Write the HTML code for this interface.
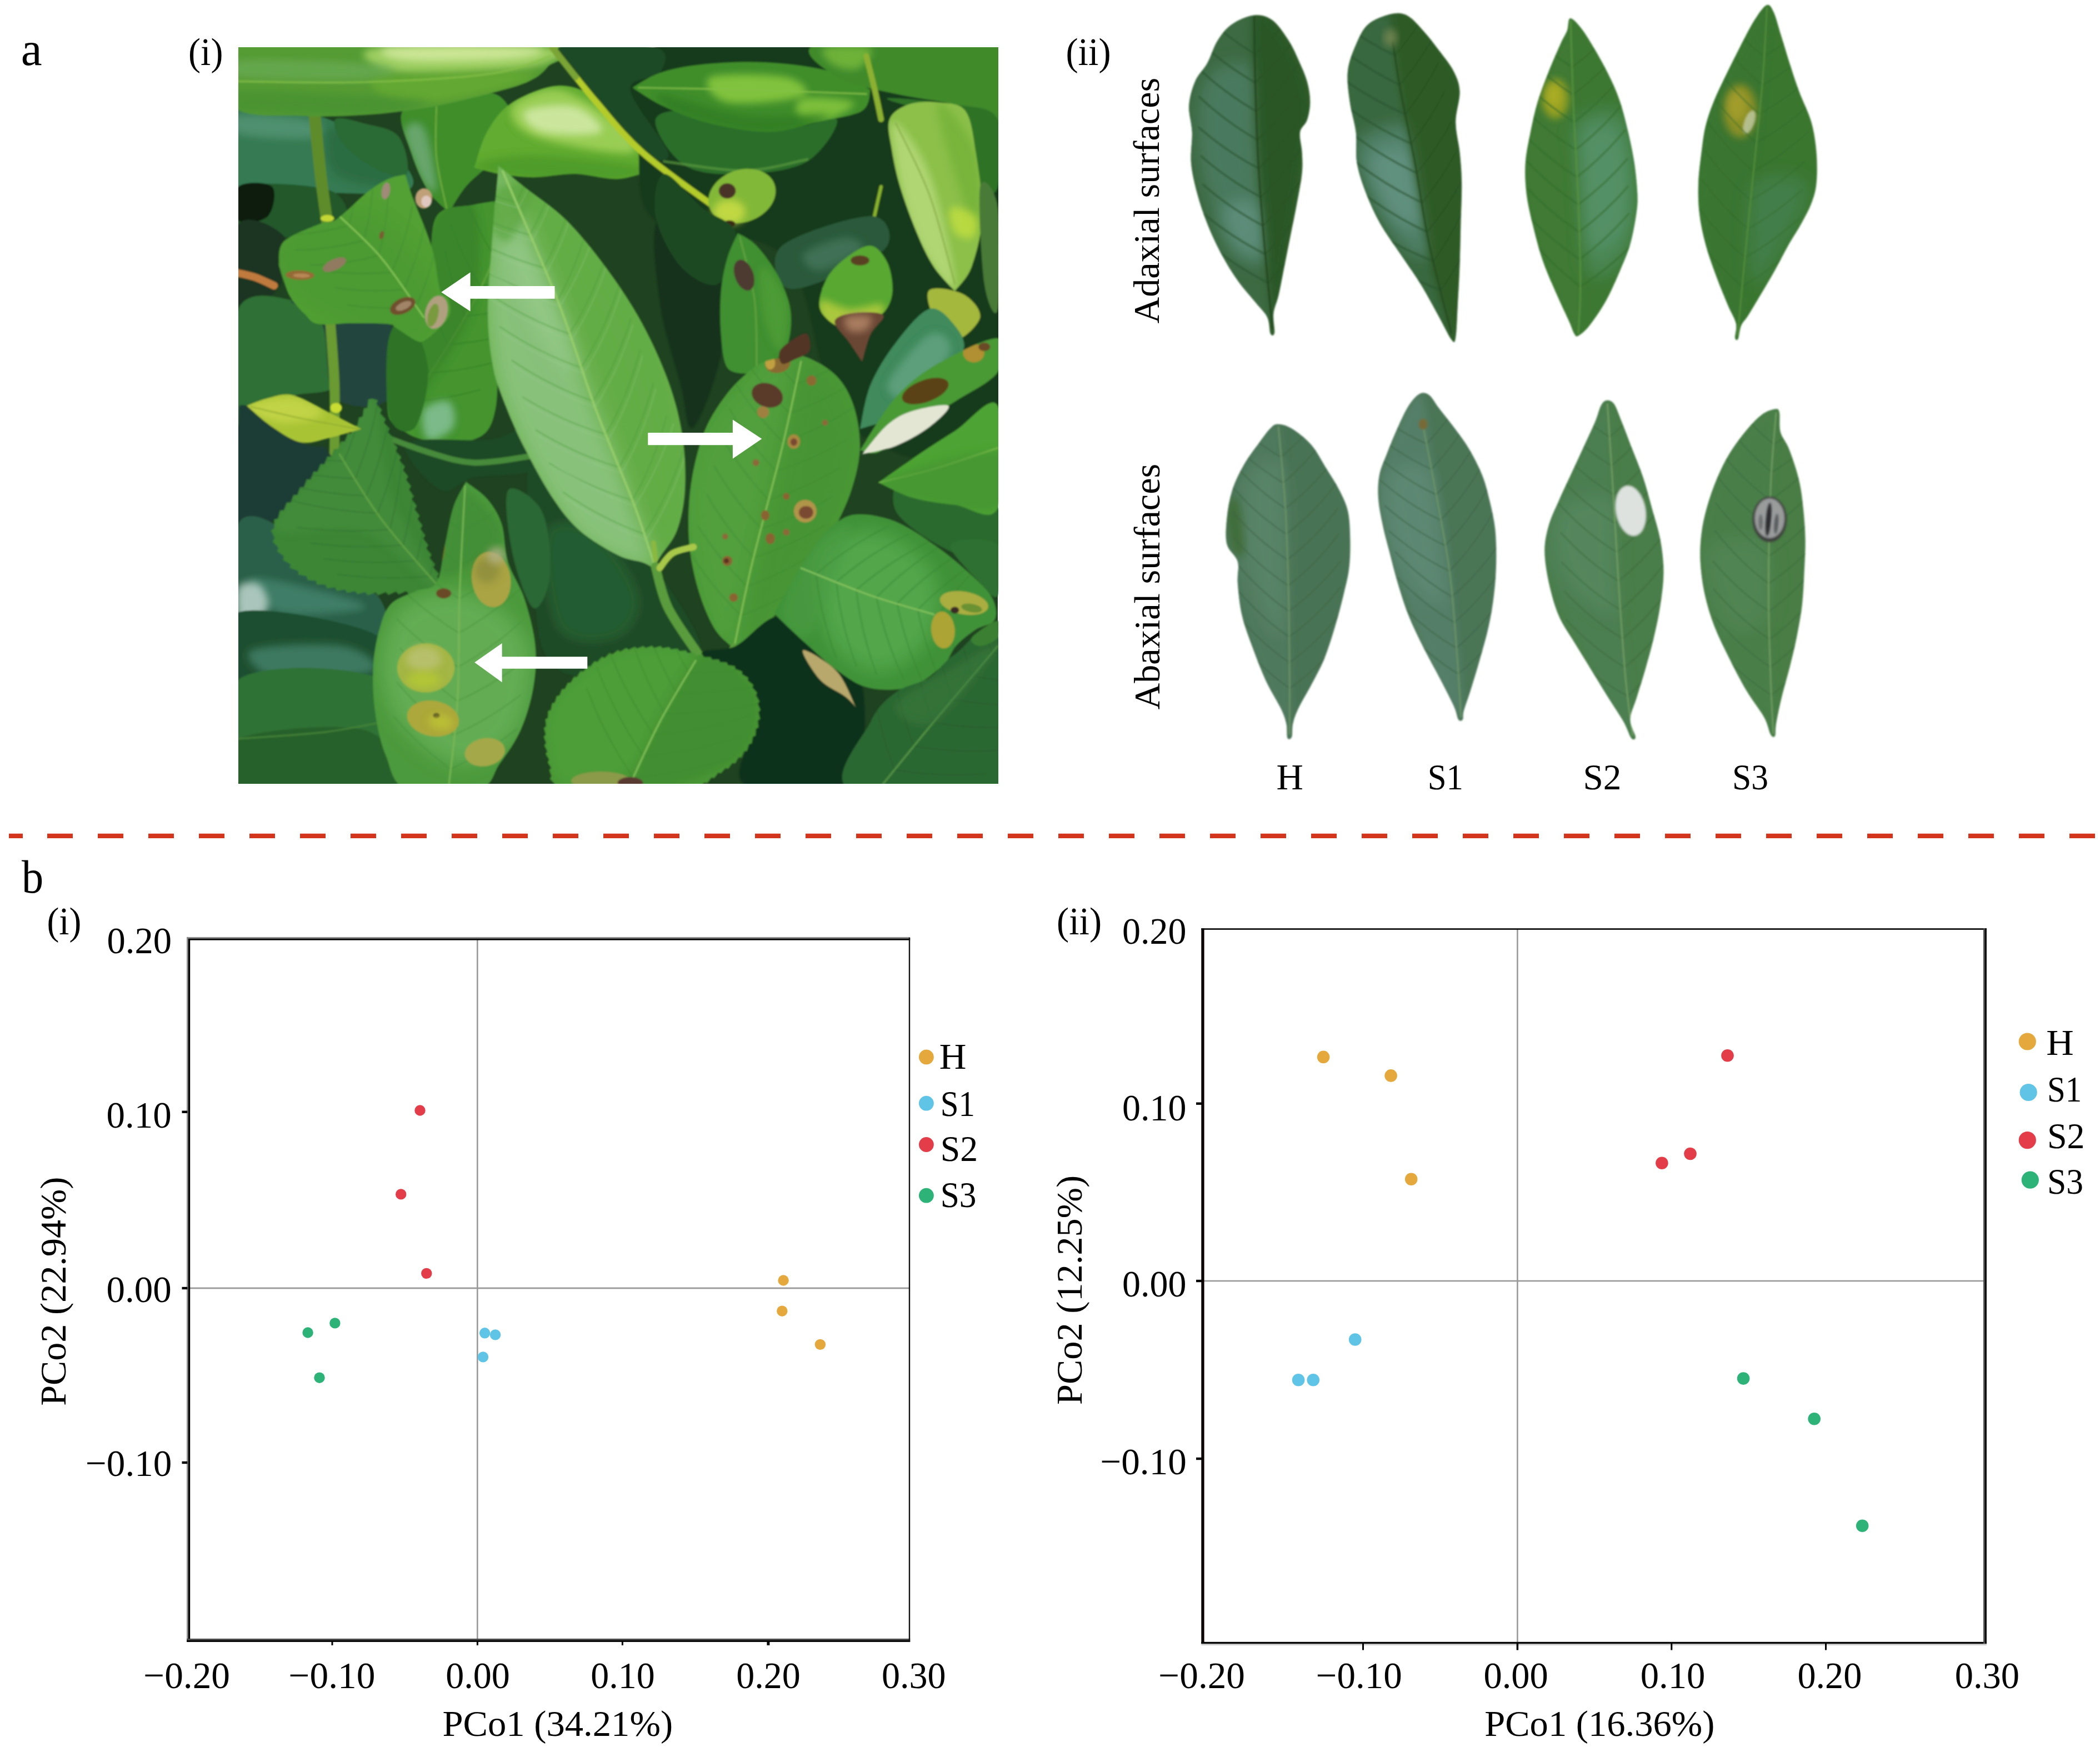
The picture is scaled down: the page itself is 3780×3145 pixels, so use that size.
<!DOCTYPE html>
<html><head><meta charset="utf-8"><title>Figure</title>
<style>
html,body{margin:0;padding:0;background:#fff;}
svg{display:block;}
text{font-family:"Liberation Serif",serif;fill:#000;}
</style></head><body>
<svg width="3780" height="3145" viewBox="0 0 3780 3145">
<rect width="3780" height="3145" fill="#fff"/>
<defs>
<filter id="pb1" x="-10%" y="-10%" width="120%" height="120%"><feGaussianBlur stdDeviation="2.2"/></filter>
<filter id="pb2" x="-30%" y="-30%" width="160%" height="160%"><feGaussianBlur stdDeviation="9"/></filter>
<filter id="pb3" x="-50%" y="-50%" width="200%" height="200%"><feGaussianBlur stdDeviation="22"/></filter>
<filter id="pb4" x="-50%" y="-50%" width="200%" height="200%"><feGaussianBlur stdDeviation="45"/></filter>
<clipPath id="photoclip"><rect x="0" y="0" width="1802" height="1747"/></clipPath>
</defs>
<g transform="translate(429,85.7) scale(0.75861)" clip-path="url(#photoclip)">
<rect x="0" y="0" width="1802" height="1747" fill="#1f4220"/>
<g filter="url(#pb1)">
<path d="M0.0,140.0 C33.3,110.8 136.7,144.2 200.0,165.0 C263.3,185.8 346.7,235.8 380.0,265.0 C413.3,294.2 430.0,326.7 400.0,340.0 C370.0,353.3 266.7,345.0 200.0,345.0 C133.3,345.0 33.3,374.2 0.0,340.0 C-33.3,305.8 -33.3,169.2 0.0,140.0 Z" fill="#357a52"/>
<path d="M0.0,160.0 C30.0,155.0 150.8,165.8 180.0,175.0 C209.2,184.2 205.0,210.0 175.0,215.0 C145.0,220.0 29.2,214.2 0.0,205.0 C-29.2,195.8 -30.0,165.0 0.0,160.0 Z" fill="#5a9a7c" opacity="0.7" filter="url(#pb2)"/>
<path d="M220.0,190.0 C241.7,183.3 333.3,236.7 360.0,260.0 C386.7,283.3 401.7,323.3 380.0,330.0 C358.3,336.7 256.7,323.3 230.0,300.0 C203.3,276.7 198.3,196.7 220.0,190.0 Z" fill="#2a6a40" opacity="0.8" filter="url(#pb2)"/>
<path d="M0.0,330.0 C36.7,316.7 178.3,323.3 220.0,340.0 C261.7,356.7 268.3,411.7 250.0,430.0 C231.7,448.3 151.7,451.7 110.0,450.0 C68.3,448.3 18.3,440.0 0.0,420.0 C-18.3,400.0 -36.7,343.3 0.0,330.0 Z" fill="#24582c"/>
<path d="M0.0,330.0 C13.3,316.7 68.3,318.3 80.0,330.0 C91.7,341.7 83.3,386.7 70.0,400.0 C56.7,413.3 11.7,421.7 0.0,410.0 C-11.7,398.3 -13.3,343.3 0.0,330.0 Z" fill="#0e1c0e"/>
<path d="M0.0,420.0 C18.3,388.3 93.3,426.7 110.0,450.0 C126.7,473.3 118.3,528.3 100.0,560.0 C81.7,591.7 16.7,663.3 0.0,640.0 C-16.7,616.7 -18.3,451.7 0.0,420.0 Z" fill="#1a3520"/>
<path d="M0.0,535.0 C6.7,536.7 25.8,540.0 40.0,545.0 C54.2,550.0 77.5,561.7 85.0,565.0" fill="none" stroke="#c07a3c" stroke-width="18" stroke-linecap="round" opacity="1"/>
<path d="M0.0,620.0 C21.7,570.0 96.7,593.3 130.0,600.0 C163.3,606.7 183.3,626.7 200.0,660.0 C216.7,693.3 243.3,771.7 230.0,800.0 C216.7,828.3 158.3,813.3 120.0,830.0 C81.7,846.7 20.0,935.0 0.0,900.0 C-20.0,865.0 -21.7,670.0 0.0,620.0 Z" fill="#2e7034"/>
<path d="M130.0,600.0 C155.0,596.7 311.7,601.7 350.0,640.0 C388.3,678.3 380.0,798.3 360.0,830.0 C340.0,861.7 256.7,858.3 230.0,830.0 C203.3,801.7 216.7,698.3 200.0,660.0 C183.3,621.7 105.0,603.3 130.0,600.0 Z" fill="#24443c"/>
<path d="M0.0,900.0 C3.3,850.0 -5.0,843.8 20.0,850.0 C45.0,856.2 117.5,918.7 150.0,937.0 C182.5,955.3 204.2,934.5 215.0,960.0 C225.8,985.5 235.8,1063.3 215.0,1090.0 C194.2,1116.7 125.8,1110.0 90.0,1120.0 C54.2,1130.0 15.0,1186.7 0.0,1150.0 C-15.0,1113.3 -3.3,950.0 0.0,900.0 Z" fill="#1f3c34"/>
<path d="M0.0,1130.0 C16.7,1095.0 66.7,1116.7 100.0,1140.0 C133.3,1163.3 161.7,1243.3 200.0,1270.0 C238.3,1296.7 310.0,1278.3 330.0,1300.0 C350.0,1321.7 375.0,1391.7 320.0,1400.0 C265.0,1408.3 53.3,1395.0 0.0,1350.0 C-53.3,1305.0 -16.7,1165.0 0.0,1130.0 Z" fill="#2a6048"/>
<path d="M30.0,1260.0 C46.7,1251.7 155.0,1278.3 200.0,1290.0 C245.0,1301.7 316.7,1321.7 300.0,1330.0 C283.3,1338.3 145.0,1351.7 100.0,1340.0 C55.0,1328.3 13.3,1268.3 30.0,1260.0 Z" fill="#4a8a74" opacity="0.7" filter="url(#pb2)"/>
<path d="M0.0,1280.0 C8.3,1265.8 38.3,1266.7 50.0,1275.0 C61.7,1283.3 75.0,1315.0 70.0,1330.0 C65.0,1345.0 31.7,1360.0 20.0,1365.0 C8.3,1370.0 3.3,1374.2 0.0,1360.0 C-3.3,1345.8 -8.3,1294.2 0.0,1280.0 Z" fill="#b8d0c8" opacity="0.9" filter="url(#pb2)"/>
<path d="M0.0,1340.0 C53.3,1321.7 265.0,1363.3 320.0,1390.0 C375.0,1416.7 383.3,1481.7 330.0,1500.0 C276.7,1518.3 55.0,1526.7 0.0,1500.0 C-55.0,1473.3 -53.3,1358.3 0.0,1340.0 Z" fill="#1f5030"/>
<path d="M30.0,1430.0 C55.0,1416.7 201.7,1411.7 250.0,1420.0 C298.3,1428.3 345.0,1466.7 320.0,1480.0 C295.0,1493.3 148.3,1508.3 100.0,1500.0 C51.7,1491.7 5.0,1443.3 30.0,1430.0 Z" fill="#4a8a74" opacity="0.7" filter="url(#pb2)"/>
<path d="M0.0,1500.0 C55.0,1458.0 270.0,1470.0 330.0,1495.0 C390.0,1520.0 346.7,1608.0 360.0,1650.0 C373.3,1692.0 470.0,1730.8 410.0,1747.0 C350.0,1763.2 68.3,1788.2 0.0,1747.0 C-68.3,1705.8 -55.0,1542.0 0.0,1500.0 Z" fill="#2f7236"/>
<path d="M0.0,1640.0 C50.0,1618.8 236.7,1602.2 300.0,1620.0 C363.3,1637.8 430.0,1725.8 380.0,1747.0 C330.0,1768.2 63.3,1764.8 0.0,1747.0 C-63.3,1729.2 -50.0,1661.2 0.0,1640.0 Z" fill="#28602c"/>
<path d="M0.0,1640.0 C33.3,1637.5 142.5,1631.7 200.0,1625.0 C257.5,1618.3 320.8,1604.2 345.0,1600.0" fill="none" stroke="#4a8a3a" stroke-width="4" stroke-linecap="round" opacity="0.8"/>
<path d="M180.0,150.0 C182.5,175.0 190.0,256.7 195.0,300.0 C200.0,343.3 207.5,391.7 210.0,410.0" fill="none" stroke="#5f8c2c" stroke-width="28" stroke-linecap="round" opacity="1"/>
<ellipse cx="211" cy="405" rx="16" ry="8" fill="#c4d834" opacity="1" transform="rotate(0 211 405)"/>
<path d="M218.0,650.0 C219.7,675.0 226.3,748.3 228.0,800.0 C229.7,851.7 228.0,933.3 228.0,960.0" fill="none" stroke="#6a9a30" stroke-width="24" stroke-linecap="round" opacity="1"/>
<ellipse cx="232" cy="855" rx="14" ry="12" fill="#c8dc30" opacity="1" transform="rotate(0 232 855)"/>
<path d="M230.0,170.0 C238.3,161.7 275.0,173.3 300.0,180.0 C325.0,186.7 363.3,190.0 380.0,210.0 C396.7,230.0 408.3,286.7 400.0,300.0 C391.7,313.3 355.0,301.7 330.0,290.0 C305.0,278.3 266.7,250.0 250.0,230.0 C233.3,210.0 221.7,178.3 230.0,170.0 Z" fill="#2a6a34"/>
<clipPath id="pc1"><path d="M390.0,150.0 C405.0,130.0 463.3,136.7 500.0,130.0 C536.7,123.3 585.0,101.7 610.0,110.0 C635.0,118.3 651.7,153.3 650.0,180.0 C648.3,206.7 618.3,245.0 600.0,270.0 C581.7,295.0 556.7,309.7 540.0,330.0 C523.3,350.3 506.0,382.7 500.0,392.0 C492.5,384.2 465.0,363.7 450.0,340.0 C435.0,316.3 420.0,281.7 410.0,250.0 C400.0,218.3 375.0,170.0 390.0,150.0 Z"/></clipPath><path d="M390.0,150.0 C405.0,130.0 463.3,136.7 500.0,130.0 C536.7,123.3 585.0,101.7 610.0,110.0 C635.0,118.3 651.7,153.3 650.0,180.0 C648.3,206.7 618.3,245.0 600.0,270.0 C581.7,295.0 556.7,309.7 540.0,330.0 C523.3,350.3 506.0,382.7 500.0,392.0 C492.5,384.2 465.0,363.7 450.0,340.0 C435.0,316.3 420.0,281.7 410.0,250.0 C400.0,218.3 375.0,170.0 390.0,150.0 Z" fill="#3f8e2c"/><g clip-path="url(#pc1)"><path d="M395.0,200.0 C395.0,178.3 427.5,168.3 440.0,190.0 C452.5,211.7 470.0,308.3 470.0,330.0 C470.0,351.7 452.5,341.7 440.0,320.0 C427.5,298.3 395.0,221.7 395.0,200.0 Z" fill="#7ab088" opacity="0.7" filter="url(#pb2)"/><path d="M470.0,140.0 C470.0,160.0 465.8,219.2 470.0,260.0 C474.2,300.8 490.8,364.2 495.0,385.0" fill="none" stroke="#6aaa3a" stroke-width="4" stroke-linecap="round" opacity="1"/></g>
<clipPath id="pc2"><path d="M-10.0,-10.0 C118.3,-35.0 635.8,-19.2 760.0,-10.0 C884.2,-0.8 746.7,30.0 735.0,45.0 C723.3,60.0 712.5,69.5 690.0,80.0 C667.5,90.5 640.0,97.7 600.0,108.0 C560.0,118.3 500.0,133.3 450.0,142.0 C400.0,150.7 350.0,156.7 300.0,160.0 C250.0,163.3 201.7,165.3 150.0,162.0 C98.3,158.7 16.7,168.7 -10.0,140.0 C-36.7,111.3 -138.3,15.0 -10.0,-10.0 Z"/></clipPath><path d="M-10.0,-10.0 C118.3,-35.0 635.8,-19.2 760.0,-10.0 C884.2,-0.8 746.7,30.0 735.0,45.0 C723.3,60.0 712.5,69.5 690.0,80.0 C667.5,90.5 640.0,97.7 600.0,108.0 C560.0,118.3 500.0,133.3 450.0,142.0 C400.0,150.7 350.0,156.7 300.0,160.0 C250.0,163.3 201.7,165.3 150.0,162.0 C98.3,158.7 16.7,168.7 -10.0,140.0 C-36.7,111.3 -138.3,15.0 -10.0,-10.0 Z" fill="#559c34"/><g clip-path="url(#pc2)"><path d="M330.0,0.0 C397.5,-8.3 683.3,-7.5 745.0,0.0 C806.7,7.5 744.2,35.0 700.0,45.0 C655.8,55.0 540.0,59.2 480.0,60.0 C420.0,60.8 365.0,60.0 340.0,50.0 C315.0,40.0 262.5,8.3 330.0,0.0 Z" fill="#a6d468" opacity="0.9" filter="url(#pb2)"/><path d="M360.0,0.0 C410.0,-5.0 650.0,-4.2 700.0,0.0 C750.0,4.2 710.0,20.0 660.0,25.0 C610.0,30.0 450.0,34.2 400.0,30.0 C350.0,25.8 310.0,5.0 360.0,0.0 Z" fill="#d4eaa0" opacity="0.85" filter="url(#pb2)"/><path d="M0.0,30.0 C55.0,25.0 275.0,32.5 330.0,40.0 C385.0,47.5 385.0,70.0 330.0,75.0 C275.0,80.0 55.0,77.5 0.0,70.0 C-55.0,62.5 -55.0,35.0 0.0,30.0 Z" fill="#6cac58" opacity="0.7" filter="url(#pb2)"/><path d="M330.0,75.0 C378.3,63.3 645.0,55.0 690.0,60.0 C735.0,65.0 648.3,93.3 600.0,105.0 C551.7,116.7 445.0,135.0 400.0,130.0 C355.0,125.0 281.7,86.7 330.0,75.0 Z" fill="#68ac30" opacity="0.8" filter="url(#pb2)"/><path d="M0.0,105.0 C50.0,99.2 225.0,110.8 300.0,115.0 C375.0,119.2 450.0,122.5 450.0,130.0 C450.0,137.5 375.0,156.7 300.0,160.0 C225.0,163.3 50.0,159.2 0.0,150.0 C-50.0,140.8 -50.0,110.8 0.0,105.0 Z" fill="#4a9230" opacity="0.8" filter="url(#pb2)"/><path d="M0.0,80.0 C50.0,80.3 200.0,85.0 300.0,82.0 C400.0,79.0 526.7,72.3 600.0,62.0 C673.3,51.7 716.7,27.0 740.0,20.0" fill="none" stroke="#86c048" stroke-width="5" stroke-linecap="round" opacity="0.7"/></g>
<clipPath id="pc3"><path d="M560.0,285.0 C564.5,272.2 575.0,225.8 590.0,200.0 C605.0,174.2 621.7,148.3 650.0,130.0 C678.3,111.7 726.7,91.7 760.0,90.0 C793.3,88.3 821.7,101.7 850.0,120.0 C878.3,138.3 907.5,171.7 930.0,200.0 C952.5,228.3 976.8,276.5 985.0,290.0 C972.2,293.3 930.8,310.3 900.0,312.0 C869.2,313.7 833.3,300.7 800.0,300.0 C766.7,299.3 730.0,308.0 700.0,308.0 C670.0,308.0 643.3,303.8 620.0,300.0 C596.7,296.2 569.0,287.2 560.0,285.0 Z"/></clipPath><path d="M560.0,285.0 C564.5,272.2 575.0,225.8 590.0,200.0 C605.0,174.2 621.7,148.3 650.0,130.0 C678.3,111.7 726.7,91.7 760.0,90.0 C793.3,88.3 821.7,101.7 850.0,120.0 C878.3,138.3 907.5,171.7 930.0,200.0 C952.5,228.3 976.8,276.5 985.0,290.0 C972.2,293.3 930.8,310.3 900.0,312.0 C869.2,313.7 833.3,300.7 800.0,300.0 C766.7,299.3 730.0,308.0 700.0,308.0 C670.0,308.0 643.3,303.8 620.0,300.0 C596.7,296.2 569.0,287.2 560.0,285.0 Z" fill="#62ac30"/><g clip-path="url(#pc3)"><path d="M650.0,140.0 C660.0,121.7 718.3,93.3 760.0,100.0 C801.7,106.7 871.7,155.0 900.0,180.0 C928.3,205.0 963.3,245.0 930.0,250.0 C896.7,255.0 746.7,228.3 700.0,210.0 C653.3,191.7 640.0,158.3 650.0,140.0 Z" fill="#a4d45c" opacity="0.85" filter="url(#pb2)"/><path d="M680.0,150.0 C693.3,140.0 770.0,131.7 800.0,140.0 C830.0,148.3 873.3,190.0 860.0,200.0 C846.7,210.0 750.0,208.3 720.0,200.0 C690.0,191.7 666.7,160.0 680.0,150.0 Z" fill="#d8ecb0" opacity="0.8" filter="url(#pb2)"/><path d="M560.0,285.0 C543.3,273.8 629.2,254.2 700.0,255.0 C770.8,255.8 968.3,278.8 985.0,290.0 C1001.7,301.2 870.8,322.8 800.0,322.0 C729.2,321.2 576.7,296.2 560.0,285.0 Z" fill="#4a962a" opacity="0.7" filter="url(#pb2)"/></g>
<path d="M980.0,0.0 C1122.0,-41.7 1665.0,-150.0 1802.0,0.0 C1939.0,150.0 1860.7,750.0 1802.0,900.0 C1743.3,1050.0 1533.7,966.7 1450.0,900.0 C1366.3,833.3 1375.0,580.0 1300.0,500.0 C1225.0,420.0 1058.3,461.7 1000.0,420.0 C941.7,378.3 953.3,320.0 950.0,250.0 C946.7,180.0 838.0,41.7 980.0,0.0 Z" fill="#183a1c"/>
<path d="M760.0,0.0 C783.3,-20.0 950.0,-10.0 990.0,0.0 C1030.0,10.0 1010.0,43.3 1000.0,60.0 C990.0,76.7 926.7,68.3 930.0,100.0 C933.3,131.7 1015.0,225.0 1020.0,250.0 C1025.0,275.0 988.3,271.7 960.0,250.0 C931.7,228.3 883.3,161.7 850.0,120.0 C816.7,78.3 736.7,20.0 760.0,0.0 Z" fill="#1f4a25"/>
<path d="M990.0,170.0 C996.7,148.3 1048.3,146.7 1100.0,150.0 C1151.7,153.3 1246.7,186.7 1300.0,190.0 C1353.3,193.3 1411.7,156.7 1420.0,170.0 C1428.3,183.3 1386.7,248.3 1350.0,270.0 C1313.3,291.7 1248.3,298.3 1200.0,300.0 C1151.7,301.7 1095.0,301.7 1060.0,280.0 C1025.0,258.3 983.3,191.7 990.0,170.0 Z" fill="#2c6e2a"/>
<path d="M1010.0,270.0 C1041.7,273.7 1143.3,292.8 1200.0,292.0 C1256.7,291.2 1325.0,269.5 1350.0,265.0" fill="none" stroke="#5a9a40" stroke-width="6" stroke-linecap="round" opacity="0.7"/>
<clipPath id="pc4"><path d="M935.0,95.0 C944.8,89.8 972.5,69.2 1000.0,60.0 C1027.5,50.8 1058.3,44.2 1100.0,40.0 C1141.7,35.8 1200.0,32.5 1250.0,35.0 C1300.0,37.5 1358.3,44.2 1400.0,55.0 C1441.7,65.8 1485.0,93.2 1500.0,100.0 C1497.0,107.5 1500.0,137.5 1480.0,150.0 C1460.0,162.5 1416.7,166.7 1380.0,175.0 C1343.3,183.3 1303.3,199.2 1260.0,200.0 C1216.7,200.8 1161.7,190.0 1120.0,180.0 C1078.3,170.0 1040.8,154.2 1010.0,140.0 C979.2,125.8 946.2,101.8 935.0,95.0 Z"/></clipPath><path d="M935.0,95.0 C944.8,89.8 972.5,69.2 1000.0,60.0 C1027.5,50.8 1058.3,44.2 1100.0,40.0 C1141.7,35.8 1200.0,32.5 1250.0,35.0 C1300.0,37.5 1358.3,44.2 1400.0,55.0 C1441.7,65.8 1485.0,93.2 1500.0,100.0 C1497.0,107.5 1500.0,137.5 1480.0,150.0 C1460.0,162.5 1416.7,166.7 1380.0,175.0 C1343.3,183.3 1303.3,199.2 1260.0,200.0 C1216.7,200.8 1161.7,190.0 1120.0,180.0 C1078.3,170.0 1040.8,154.2 1010.0,140.0 C979.2,125.8 946.2,101.8 935.0,95.0 Z" fill="#408e2c"/><g clip-path="url(#pc4)"><path d="M1120.0,70.0 C1143.3,60.0 1263.3,62.5 1300.0,70.0 C1336.7,77.5 1363.3,105.0 1340.0,115.0 C1316.7,125.0 1196.7,137.5 1160.0,130.0 C1123.3,122.5 1096.7,80.0 1120.0,70.0 Z" fill="#8ccc40" opacity="0.85" filter="url(#pb2)"/><path d="M1340.0,120.0 C1361.7,114.2 1450.0,121.7 1460.0,130.0 C1470.0,138.3 1421.7,164.2 1400.0,170.0 C1378.3,175.8 1340.0,173.3 1330.0,165.0 C1320.0,156.7 1318.3,125.8 1340.0,120.0 Z" fill="#8ccc40" opacity="0.8" filter="url(#pb2)"/><path d="M1000.0,110.0 C1025.0,110.0 1133.3,151.7 1200.0,160.0 C1266.7,168.3 1390.0,152.5 1400.0,160.0 C1410.0,167.5 1318.3,205.0 1260.0,205.0 C1201.7,205.0 1093.3,175.8 1050.0,160.0 C1006.7,144.2 975.0,110.0 1000.0,110.0 Z" fill="#2f7a24" opacity="0.7" filter="url(#pb2)"/><path d="M950.0,95.0 C991.7,95.8 1110.0,97.5 1200.0,100.0 C1290.0,102.5 1441.7,108.3 1490.0,110.0" fill="none" stroke="#86c048" stroke-width="4" stroke-linecap="round" opacity="0.8"/></g>
<path d="M1380.0,-10.0 C1446.7,-23.3 1746.7,-40.0 1820.0,-10.0 C1893.3,20.0 1840.0,145.8 1820.0,170.0 C1800.0,194.2 1743.3,145.0 1700.0,135.0 C1656.7,125.0 1606.7,120.8 1560.0,110.0 C1513.3,99.2 1450.0,90.0 1420.0,70.0 C1390.0,50.0 1313.3,3.3 1380.0,-10.0 Z" fill="#3f8a2c"/>
<path d="M1390.0,0.0 C1405.0,-6.7 1486.7,-8.3 1500.0,0.0 C1513.3,8.3 1485.0,43.3 1470.0,50.0 C1455.0,56.7 1423.3,48.3 1410.0,40.0 C1396.7,31.7 1375.0,6.7 1390.0,0.0 Z" fill="#7abc3c" opacity="0.8" filter="url(#pb2)"/>
<path d="M1540.0,120.0 C1553.3,117.5 1656.3,126.7 1700.0,135.0 C1743.7,143.3 1785.0,137.5 1802.0,170.0 C1819.0,202.5 1809.0,303.3 1802.0,330.0 C1795.0,356.7 1773.7,351.7 1760.0,330.0 C1746.3,308.3 1743.3,230.0 1720.0,200.0 C1696.7,170.0 1650.0,163.3 1620.0,150.0 C1590.0,136.7 1526.7,122.5 1540.0,120.0 Z" fill="#2f7228"/>
<path d="M745.0,0.0 C762.5,21.7 814.2,88.3 850.0,130.0 C885.8,171.7 913.3,208.7 960.0,250.0 C1006.7,291.3 1101.7,356.7 1130.0,378.0" fill="none" stroke="#b4cc2c" stroke-width="15" stroke-linecap="round" opacity="1"/>
<path d="M745.0,0.0 L800.0,70.0" fill="none" stroke="#7aa434" stroke-width="15" stroke-linecap="round" opacity="1"/>
<path d="M1490.0,20.0 C1493.3,33.3 1504.2,75.0 1510.0,100.0 C1515.8,125.0 1522.5,158.3 1525.0,170.0" fill="none" stroke="#8cb030" stroke-width="14" stroke-linecap="round" opacity="1"/>
<path d="M1525.0,330.0 C1521.7,345.0 1510.0,395.0 1505.0,420.0 C1500.0,445.0 1496.7,470.0 1495.0,480.0" fill="none" stroke="#8ab42e" stroke-width="8" stroke-linecap="round" opacity="1"/>
<ellipse cx="1195" cy="352" rx="82" ry="62" fill="#82b838" opacity="1" transform="rotate(-20 1195 352)"/>
<ellipse cx="1165" cy="390" rx="38" ry="30" fill="#c8dc44" opacity="0.9" transform="rotate(0 1165 390)" filter="url(#pb2)"/>
<ellipse cx="1160" cy="340" rx="20" ry="18" fill="#4a3228" opacity="1" transform="rotate(0 1160 340)"/>
<ellipse cx="1165" cy="418" rx="14" ry="8" fill="#3a2a18" opacity="1" transform="rotate(0 1165 418)"/>
<path d="M1000.0,400.0 C1025.0,371.7 1125.0,380.0 1150.0,430.0 C1175.0,480.0 1161.7,621.7 1150.0,700.0 C1138.3,778.3 1096.7,883.3 1080.0,900.0 C1063.3,916.7 1063.3,850.0 1050.0,800.0 C1036.7,750.0 1008.3,666.7 1000.0,600.0 C991.7,533.3 975.0,428.3 1000.0,400.0 Z" fill="#12301a"/>
<path d="M1290.0,470.0 C1323.3,441.7 1458.3,400.0 1500.0,400.0 C1541.7,400.0 1553.3,446.7 1540.0,470.0 C1526.7,493.3 1460.0,523.3 1420.0,540.0 C1380.0,556.7 1321.7,581.7 1300.0,570.0 C1278.3,558.3 1256.7,498.3 1290.0,470.0 Z" fill="#2a5a3a"/>
<path d="M1340.0,490.0 C1350.0,476.7 1416.7,451.7 1440.0,450.0 C1463.3,448.3 1490.0,466.7 1480.0,480.0 C1470.0,493.3 1403.3,528.3 1380.0,530.0 C1356.7,531.7 1330.0,503.3 1340.0,490.0 Z" fill="#4a7a60" opacity="0.7" filter="url(#pb2)"/>
<path d="M1010.0,300.0 C1028.3,296.7 1071.7,356.7 1100.0,380.0 C1128.3,403.3 1173.3,410.0 1180.0,440.0 C1186.7,470.0 1161.7,546.7 1140.0,560.0 C1118.3,573.3 1075.0,546.7 1050.0,520.0 C1025.0,493.3 996.7,436.7 990.0,400.0 C983.3,363.3 991.7,303.3 1010.0,300.0 Z" fill="#1f4a22"/>
<clipPath id="pc5"><path d="M1545.0,170.0 C1551.7,152.5 1570.8,141.7 1590.0,135.0 C1609.2,128.3 1637.5,127.5 1660.0,130.0 C1682.5,132.5 1710.0,130.0 1725.0,150.0 C1740.0,170.0 1743.3,208.3 1750.0,250.0 C1756.7,291.7 1766.7,355.0 1765.0,400.0 C1763.3,445.0 1750.8,490.3 1740.0,520.0 C1729.2,549.7 1706.0,569.3 1700.0,578.0 C1692.5,569.3 1665.0,543.0 1650.0,520.0 C1635.0,497.0 1623.3,471.7 1610.0,440.0 C1596.7,408.3 1580.0,363.3 1570.0,330.0 C1560.0,296.7 1554.2,266.7 1550.0,240.0 C1545.8,213.3 1538.3,187.5 1545.0,170.0 Z"/></clipPath><path d="M1545.0,170.0 C1551.7,152.5 1570.8,141.7 1590.0,135.0 C1609.2,128.3 1637.5,127.5 1660.0,130.0 C1682.5,132.5 1710.0,130.0 1725.0,150.0 C1740.0,170.0 1743.3,208.3 1750.0,250.0 C1756.7,291.7 1766.7,355.0 1765.0,400.0 C1763.3,445.0 1750.8,490.3 1740.0,520.0 C1729.2,549.7 1706.0,569.3 1700.0,578.0 C1692.5,569.3 1665.0,543.0 1650.0,520.0 C1635.0,497.0 1623.3,471.7 1610.0,440.0 C1596.7,408.3 1580.0,363.3 1570.0,330.0 C1560.0,296.7 1554.2,266.7 1550.0,240.0 C1545.8,213.3 1538.3,187.5 1545.0,170.0 Z" fill="#8cc04a"/><g clip-path="url(#pc5)"><path d="M1550.0,180.0 C1556.7,158.3 1615.0,235.0 1640.0,300.0 C1665.0,365.0 1706.7,548.3 1700.0,570.0 C1693.3,591.7 1625.0,495.0 1600.0,430.0 C1575.0,365.0 1543.3,201.7 1550.0,180.0 Z" fill="#b4d878" opacity="0.9" filter="url(#pb2)"/><path d="M1660.0,130.0 C1668.3,121.7 1733.3,196.7 1750.0,250.0 C1766.7,303.3 1768.3,441.7 1760.0,450.0 C1751.7,458.3 1716.7,353.3 1700.0,300.0 C1683.3,246.7 1651.7,138.3 1660.0,130.0 Z" fill="#74b238" opacity="0.8" filter="url(#pb2)"/><path d="M1690.0,380.0 C1698.3,373.3 1740.8,388.3 1750.0,400.0 C1759.2,411.7 1753.3,443.3 1745.0,450.0 C1736.7,456.7 1709.2,451.7 1700.0,440.0 C1690.8,428.3 1681.7,386.7 1690.0,380.0 Z" fill="#c4e040" opacity="0.8" filter="url(#pb2)"/><path d="M1560.0,180.0 C1573.3,208.3 1616.7,286.7 1640.0,350.0 C1663.3,413.3 1690.0,525.0 1700.0,560.0" fill="none" stroke="#8ab04a" stroke-width="4" stroke-linecap="round" opacity="0.8"/></g>
<path d="M1760.0,330.0 C1765.3,300.0 1795.0,331.7 1802.0,380.0 C1809.0,428.3 1807.3,590.0 1802.0,620.0 C1796.7,650.0 1777.0,608.3 1770.0,560.0 C1763.0,511.7 1754.7,360.0 1760.0,330.0 Z" fill="#4a7a38"/>
<path d="M1640.0,575.0 C1651.7,565.8 1700.0,574.2 1720.0,585.0 C1740.0,595.8 1763.3,621.7 1760.0,640.0 C1756.7,658.3 1718.3,695.0 1700.0,695.0 C1681.7,695.0 1660.0,660.0 1650.0,640.0 C1640.0,620.0 1628.3,584.2 1640.0,575.0 Z" fill="#a4b83c"/>
<clipPath id="pc6"><path d="M1380.0,620.0 C1374.2,600.8 1385.0,570.0 1395.0,550.0 C1405.0,530.0 1422.5,513.3 1440.0,500.0 C1457.5,486.7 1483.3,468.3 1500.0,470.0 C1516.7,471.7 1531.3,491.7 1540.0,510.0 C1548.7,528.3 1553.7,560.0 1552.0,580.0 C1550.3,600.0 1542.0,618.3 1530.0,630.0 C1518.0,641.7 1496.7,644.2 1480.0,650.0 C1463.3,655.8 1446.7,670.0 1430.0,665.0 C1413.3,660.0 1385.8,639.2 1380.0,620.0 Z"/></clipPath><path d="M1380.0,620.0 C1374.2,600.8 1385.0,570.0 1395.0,550.0 C1405.0,530.0 1422.5,513.3 1440.0,500.0 C1457.5,486.7 1483.3,468.3 1500.0,470.0 C1516.7,471.7 1531.3,491.7 1540.0,510.0 C1548.7,528.3 1553.7,560.0 1552.0,580.0 C1550.3,600.0 1542.0,618.3 1530.0,630.0 C1518.0,641.7 1496.7,644.2 1480.0,650.0 C1463.3,655.8 1446.7,670.0 1430.0,665.0 C1413.3,660.0 1385.8,639.2 1380.0,620.0 Z" fill="#58a832"/><g clip-path="url(#pc6)"><path d="M1380.0,600.0 C1388.3,591.7 1425.0,618.3 1450.0,620.0 C1475.0,621.7 1521.7,601.7 1530.0,610.0 C1538.3,618.3 1521.7,660.0 1500.0,670.0 C1478.3,680.0 1420.0,681.7 1400.0,670.0 C1380.0,658.3 1371.7,608.3 1380.0,600.0 Z" fill="#c0d040" opacity="0.8" filter="url(#pb2)"/></g>
<path d="M1415.0,650.0 C1416.7,638.3 1440.8,632.5 1460.0,630.0 C1479.2,627.5 1523.3,626.7 1530.0,635.0 C1536.7,643.3 1508.3,661.7 1500.0,680.0 C1491.7,698.3 1483.0,735.2 1480.0,745.0 C1475.5,738.2 1460.8,715.8 1450.0,700.0 C1439.2,684.2 1413.3,661.7 1415.0,650.0 Z" fill="#6a4634"/>
<path d="M1440.0,640.0 C1448.3,634.3 1491.7,633.0 1500.0,638.0 C1508.3,643.0 1498.3,664.3 1490.0,670.0 C1481.7,675.7 1458.3,677.0 1450.0,672.0 C1441.7,667.0 1431.7,645.7 1440.0,640.0 Z" fill="#b88a6a" opacity="0.8" filter="url(#pb2)"/>
<ellipse cx="1475" cy="505" rx="22" ry="12" fill="#5a4024" opacity="1" transform="rotate(0 1475 505)"/>
<clipPath id="pc7"><path d="M1475.0,905.0 C1478.8,889.2 1485.8,834.2 1500.0,800.0 C1514.2,765.8 1536.7,730.0 1560.0,700.0 C1583.3,670.0 1616.7,626.7 1640.0,620.0 C1663.3,613.3 1686.7,643.3 1700.0,660.0 C1713.3,676.7 1728.3,696.7 1720.0,720.0 C1711.7,743.3 1675.0,775.0 1650.0,800.0 C1625.0,825.0 1599.2,852.5 1570.0,870.0 C1540.8,887.5 1489.2,899.8 1475.0,905.0 Z"/></clipPath><path d="M1475.0,905.0 C1478.8,889.2 1485.8,834.2 1500.0,800.0 C1514.2,765.8 1536.7,730.0 1560.0,700.0 C1583.3,670.0 1616.7,626.7 1640.0,620.0 C1663.3,613.3 1686.7,643.3 1700.0,660.0 C1713.3,676.7 1728.3,696.7 1720.0,720.0 C1711.7,743.3 1675.0,775.0 1650.0,800.0 C1625.0,825.0 1599.2,852.5 1570.0,870.0 C1540.8,887.5 1489.2,899.8 1475.0,905.0 Z" fill="#3f8a5c"/><g clip-path="url(#pc7)"><path d="M1540.0,800.0 C1546.7,775.0 1615.0,693.3 1640.0,680.0 C1665.0,666.7 1696.7,695.0 1690.0,720.0 C1683.3,745.0 1625.0,816.7 1600.0,830.0 C1575.0,843.3 1533.3,825.0 1540.0,800.0 Z" fill="#6aa888" opacity="0.7" filter="url(#pb2)"/></g>
<clipPath id="pc8"><path d="M1475.0,955.0 C1487.8,936.2 1529.2,864.2 1560.0,830.0 C1590.8,795.8 1619.7,773.3 1660.0,750.0 C1700.3,726.7 1778.3,686.7 1802.0,690.0 C1825.7,693.3 1819.0,745.0 1802.0,770.0 C1785.0,795.0 1733.7,818.3 1700.0,840.0 C1666.3,861.7 1630.0,880.0 1600.0,900.0 C1570.0,920.0 1540.8,950.8 1520.0,960.0 C1499.2,969.2 1481.8,955.8 1475.0,955.0 Z"/></clipPath><path d="M1475.0,955.0 C1487.8,936.2 1529.2,864.2 1560.0,830.0 C1590.8,795.8 1619.7,773.3 1660.0,750.0 C1700.3,726.7 1778.3,686.7 1802.0,690.0 C1825.7,693.3 1819.0,745.0 1802.0,770.0 C1785.0,795.0 1733.7,818.3 1700.0,840.0 C1666.3,861.7 1630.0,880.0 1600.0,900.0 C1570.0,920.0 1540.8,950.8 1520.0,960.0 C1499.2,969.2 1481.8,955.8 1475.0,955.0 Z" fill="#4a9a34"/><g clip-path="url(#pc8)"><ellipse cx="1630" cy="815" rx="58" ry="26" fill="#5a4218" opacity="1" transform="rotate(-20 1630 815)"/><ellipse cx="1745" cy="725" rx="25" ry="22" fill="#b09030" opacity="1" transform="rotate(0 1745 725)"/><ellipse cx="1770" cy="710" rx="14" ry="10" fill="#6a4a28" opacity="1" transform="rotate(0 1770 710)"/></g>
<path d="M1480.0,965.0 C1489.0,954.5 1520.0,912.2 1540.0,895.0 C1560.0,877.8 1575.8,869.5 1600.0,862.0 C1624.2,854.5 1678.3,843.7 1685.0,850.0 C1691.7,856.3 1660.8,884.2 1640.0,900.0 C1619.2,915.8 1586.7,934.2 1560.0,945.0 C1533.3,955.8 1492.0,962.0 1480.0,965.0 Z" fill="#e4e6d4"/>
<path d="M1560.0,1100.0 C1543.3,1066.7 1559.7,1001.7 1600.0,1000.0 C1640.3,998.3 1768.3,1056.7 1802.0,1090.0 C1835.7,1123.3 1819.0,1181.7 1802.0,1200.0 C1785.0,1218.3 1740.3,1216.7 1700.0,1200.0 C1659.7,1183.3 1576.7,1133.3 1560.0,1100.0 Z" fill="#2a6a2e"/>
<clipPath id="pc9"><path d="M1518.0,1032.0 C1530.3,1023.5 1569.7,995.3 1600.0,975.0 C1630.3,954.7 1666.3,930.8 1700.0,910.0 C1733.7,889.2 1785.0,819.7 1802.0,850.0 C1819.0,880.3 1819.0,1052.8 1802.0,1092.0 C1785.0,1131.2 1733.7,1089.0 1700.0,1085.0 C1666.3,1081.0 1630.3,1076.8 1600.0,1068.0 C1569.7,1059.2 1530.3,1037.4 1518.0,1032.0 Z"/></clipPath><path d="M1518.0,1032.0 C1530.3,1023.5 1569.7,995.3 1600.0,975.0 C1630.3,954.7 1666.3,930.8 1700.0,910.0 C1733.7,889.2 1785.0,819.7 1802.0,850.0 C1819.0,880.3 1819.0,1052.8 1802.0,1092.0 C1785.0,1131.2 1733.7,1089.0 1700.0,1085.0 C1666.3,1081.0 1630.3,1076.8 1600.0,1068.0 C1569.7,1059.2 1530.3,1037.4 1518.0,1032.0 Z" fill="#4ea434"/><g clip-path="url(#pc9)"><path d="M1520.0,1032.0 C1541.7,1026.7 1603.0,1013.7 1650.0,1000.0 C1697.0,986.3 1776.7,958.3 1802.0,950.0" fill="none" stroke="#86c450" stroke-width="4" stroke-linecap="round" opacity="0.8"/><path d="M1520.0,1032.0 C1545.3,1012.0 1755.0,950.0 1802.0,960.0 C1849.0,970.0 1827.3,1072.0 1802.0,1092.0 C1776.7,1112.0 1697.0,1090.0 1650.0,1080.0 C1603.0,1070.0 1494.7,1052.0 1520.0,1032.0 Z" fill="#429030" opacity="0.6" filter="url(#pb2)"/></g>
<clipPath id="pc10"><path d="M1185.0,440.0 C1191.8,444.5 1214.2,453.3 1230.0,470.0 C1245.8,486.7 1266.7,515.0 1280.0,540.0 C1293.3,565.0 1305.8,593.3 1310.0,620.0 C1314.2,646.7 1311.7,679.2 1305.0,700.0 C1298.3,720.8 1285.8,732.5 1270.0,745.0 C1254.2,757.5 1219.0,770.5 1210.0,775.0 C1202.5,772.8 1170.8,775.8 1160.0,760.0 C1149.2,744.2 1147.5,710.0 1145.0,680.0 C1142.5,650.0 1142.5,610.0 1145.0,580.0 C1147.5,550.0 1153.3,523.3 1160.0,500.0 C1166.7,476.7 1181.2,449.0 1185.0,440.0 Z"/></clipPath><path d="M1185.0,440.0 C1191.8,444.5 1214.2,453.3 1230.0,470.0 C1245.8,486.7 1266.7,515.0 1280.0,540.0 C1293.3,565.0 1305.8,593.3 1310.0,620.0 C1314.2,646.7 1311.7,679.2 1305.0,700.0 C1298.3,720.8 1285.8,732.5 1270.0,745.0 C1254.2,757.5 1219.0,770.5 1210.0,775.0 C1202.5,772.8 1170.8,775.8 1160.0,760.0 C1149.2,744.2 1147.5,710.0 1145.0,680.0 C1142.5,650.0 1142.5,610.0 1145.0,580.0 C1147.5,550.0 1153.3,523.3 1160.0,500.0 C1166.7,476.7 1181.2,449.0 1185.0,440.0 Z" fill="#409030"/><g clip-path="url(#pc10)"><path d="M1190.0,450.0 C1195.8,475.0 1218.3,546.7 1225.0,600.0 C1231.7,653.3 1229.2,741.7 1230.0,770.0" fill="none" stroke="#6aa844" stroke-width="4" stroke-linecap="round" opacity="0.8"/><ellipse cx="1200" cy="540" rx="22" ry="38" fill="#4e3a30" opacity="1" transform="rotate(-20 1200 540)"/><path d="M1240.0,520.0 C1248.3,511.7 1291.7,566.7 1300.0,600.0 C1308.3,633.3 1298.3,711.7 1290.0,720.0 C1281.7,728.3 1258.3,683.3 1250.0,650.0 C1241.7,616.7 1231.7,528.3 1240.0,520.0 Z" fill="#52a03a" opacity="0.7" filter="url(#pb2)"/></g>
<clipPath id="pc11"><path d="M470.0,400.0 C488.3,372.0 524.2,379.5 560.0,372.0 C595.8,364.5 666.2,357.6 685.0,355.0 C679.8,364.8 660.8,392.5 650.0,420.0 C639.2,447.5 626.7,483.3 620.0,520.0 C613.3,556.7 610.8,600.0 610.0,640.0 C609.2,680.0 615.0,723.3 615.0,760.0 C615.0,796.7 615.8,833.3 610.0,860.0 C604.2,886.7 598.3,906.7 580.0,920.0 C561.7,933.3 526.7,939.2 500.0,940.0 C473.3,940.8 440.0,931.7 420.0,925.0 C400.0,918.3 386.0,903.8 380.0,900.0 C376.2,895.5 358.7,893.3 355.0,870.0 C351.3,846.7 351.3,798.3 358.0,760.0 C364.7,721.7 379.7,676.7 395.0,640.0 C410.3,603.3 437.5,580.0 450.0,540.0 C462.5,500.0 451.7,428.0 470.0,400.0 Z"/></clipPath><path d="M470.0,400.0 C488.3,372.0 524.2,379.5 560.0,372.0 C595.8,364.5 666.2,357.6 685.0,355.0 C679.8,364.8 660.8,392.5 650.0,420.0 C639.2,447.5 626.7,483.3 620.0,520.0 C613.3,556.7 610.8,600.0 610.0,640.0 C609.2,680.0 615.0,723.3 615.0,760.0 C615.0,796.7 615.8,833.3 610.0,860.0 C604.2,886.7 598.3,906.7 580.0,920.0 C561.7,933.3 526.7,939.2 500.0,940.0 C473.3,940.8 440.0,931.7 420.0,925.0 C400.0,918.3 386.0,903.8 380.0,900.0 C376.2,895.5 358.7,893.3 355.0,870.0 C351.3,846.7 351.3,798.3 358.0,760.0 C364.7,721.7 379.7,676.7 395.0,640.0 C410.3,603.3 437.5,580.0 450.0,540.0 C462.5,500.0 451.7,428.0 470.0,400.0 Z" fill="#44942f"/><g clip-path="url(#pc11)"><path d="M636.6,419.9 Q717.3,402.8 792.2,368.1 M636.6,419.9 Q593.0,349.9 566.1,271.9 M605.5,493.1 Q686.2,476.0 761.0,441.4 M605.5,493.1 Q561.8,423.1 534.9,345.1 M574.3,566.3 Q655.0,549.2 729.9,514.6 M574.3,566.3 Q530.7,496.3 503.8,418.3 M537.3,636.5 Q619.7,631.9 699.0,609.1 M537.3,636.5 Q504.9,560.7 490.2,479.5 M495.4,704.1 Q577.8,699.5 657.0,676.7 M495.4,704.1 Q462.9,628.3 448.2,547.1 M453.4,771.7 Q535.8,767.1 615.1,744.3 M453.4,771.7 Q421.0,695.9 406.3,614.7 M411.5,839.3 Q493.8,834.7 573.1,811.9 M411.5,839.3 Q379.0,763.5 364.3,682.3" fill="none" stroke="#2f7a26" stroke-width="3" opacity="0.45" stroke-linecap="round"/><path d="M660.0,365.0 C643.3,404.2 606.7,512.5 560.0,600.0 C513.3,687.5 410.0,841.7 380.0,890.0" fill="none" stroke="#6aaa40" stroke-width="4" stroke-linecap="round" opacity="0.8"/><path d="M470.0,400.0 C496.7,356.7 545.0,346.7 560.0,380.0 C575.0,413.3 578.3,530.0 560.0,600.0 C541.7,670.0 483.3,753.3 450.0,800.0 C416.7,846.7 368.3,906.7 360.0,880.0 C351.7,853.3 381.7,720.0 400.0,640.0 C418.3,560.0 443.3,443.3 470.0,400.0 Z" fill="#37802a" opacity="0.7" filter="url(#pb2)"/><path d="M440.0,860.0 C448.3,845.0 488.3,833.3 500.0,840.0 C511.7,846.7 518.3,885.0 510.0,900.0 C501.7,915.0 461.7,936.7 450.0,930.0 C438.3,923.3 431.7,875.0 440.0,860.0 Z" fill="#8ac4a0" opacity="0.8" filter="url(#pb2)"/></g>
<path d="M355.0,700.0 C361.7,660.0 384.2,630.0 400.0,640.0 C415.8,650.0 446.7,716.7 450.0,760.0 C453.3,803.3 435.0,880.0 420.0,900.0 C405.0,920.0 370.8,913.3 360.0,880.0 C349.2,846.7 348.3,740.0 355.0,700.0 Z" fill="#2e7328"/>
<path d="M400.0,940.0 C420.0,920.0 551.7,936.7 600.0,930.0 C648.3,923.3 673.3,888.3 690.0,900.0 C706.7,911.7 721.7,980.0 700.0,1000.0 C678.3,1020.0 596.7,1011.7 560.0,1020.0 C523.3,1028.3 506.7,1063.3 480.0,1050.0 C453.3,1036.7 380.0,960.0 400.0,940.0 Z" fill="#1f4a26"/>
<path d="M300.0,905.0 C325.0,914.2 406.7,946.7 450.0,960.0 C493.3,973.3 520.0,983.3 560.0,985.0 C600.0,986.7 668.3,972.5 690.0,970.0" fill="none" stroke="#468a3a" stroke-width="14" stroke-linecap="round" opacity="1"/>
<path d="M690.0,1000.0 C703.3,966.7 745.0,975.0 780.0,1000.0 C815.0,1025.0 863.3,1108.3 900.0,1150.0 C936.7,1191.7 967.5,1201.7 1000.0,1250.0 C1032.5,1298.3 1111.7,1410.0 1095.0,1440.0 C1078.3,1470.0 949.2,1421.7 900.0,1430.0 C850.8,1438.3 830.0,1491.7 800.0,1490.0 C770.0,1488.3 736.7,1468.3 720.0,1420.0 C703.3,1371.7 705.0,1270.0 700.0,1200.0 C695.0,1130.0 676.7,1033.3 690.0,1000.0 Z" fill="#1f4c28"/>
<path d="M730.0,1150.0 C745.0,1111.7 813.3,1125.0 850.0,1150.0 C886.7,1175.0 941.7,1258.3 950.0,1300.0 C958.3,1341.7 931.7,1386.7 900.0,1400.0 C868.3,1413.3 788.3,1421.7 760.0,1380.0 C731.7,1338.3 715.0,1188.3 730.0,1150.0 Z" fill="#286030" opacity="0.8" filter="url(#pb2)"/>
<path d="M640.0,1050.0 C651.7,1033.3 703.3,1066.7 720.0,1100.0 C736.7,1133.3 743.3,1211.7 740.0,1250.0 C736.7,1288.3 715.0,1338.3 700.0,1330.0 C685.0,1321.7 660.0,1246.7 650.0,1200.0 C640.0,1153.3 628.3,1066.7 640.0,1050.0 Z" fill="#2a6834"/>
<clipPath id="pc12"><path d="M617.0,280.0 C626.6,287.8 654.2,310.5 681.0,332.0 C707.8,353.5 745.8,377.0 778.0,409.0 C810.2,441.0 844.2,483.5 874.0,524.0 C903.8,564.5 932.5,607.2 957.0,652.0 C981.5,696.8 1004.8,748.0 1021.0,793.0 C1037.2,838.0 1047.5,879.2 1054.0,922.0 C1060.5,964.8 1062.2,1012.7 1060.0,1050.0 C1057.8,1087.3 1050.7,1119.8 1041.0,1146.0 C1031.3,1172.2 1011.2,1192.0 1002.0,1207.0 C992.8,1222.0 988.4,1231.7 986.0,1236.0 C982.1,1233.9 974.3,1227.3 960.0,1222.0 C945.7,1216.7 925.0,1216.7 900.0,1204.0 C875.0,1191.3 835.7,1168.5 810.0,1146.0 C784.3,1123.5 767.5,1101.0 746.0,1069.0 C724.5,1037.0 699.2,989.2 681.0,954.0 C662.8,918.8 649.7,890.2 637.0,858.0 C624.3,825.8 612.5,798.5 605.0,761.0 C597.5,723.5 592.7,681.0 592.0,633.0 C591.3,585.0 596.8,531.8 601.0,473.0 C605.2,414.2 614.6,308.9 617.0,280.0 Z"/></clipPath><path d="M617.0,280.0 C626.6,287.8 654.2,310.5 681.0,332.0 C707.8,353.5 745.8,377.0 778.0,409.0 C810.2,441.0 844.2,483.5 874.0,524.0 C903.8,564.5 932.5,607.2 957.0,652.0 C981.5,696.8 1004.8,748.0 1021.0,793.0 C1037.2,838.0 1047.5,879.2 1054.0,922.0 C1060.5,964.8 1062.2,1012.7 1060.0,1050.0 C1057.8,1087.3 1050.7,1119.8 1041.0,1146.0 C1031.3,1172.2 1011.2,1192.0 1002.0,1207.0 C992.8,1222.0 988.4,1231.7 986.0,1236.0 C982.1,1233.9 974.3,1227.3 960.0,1222.0 C945.7,1216.7 925.0,1216.7 900.0,1204.0 C875.0,1191.3 835.7,1168.5 810.0,1146.0 C784.3,1123.5 767.5,1101.0 746.0,1069.0 C724.5,1037.0 699.2,989.2 681.0,954.0 C662.8,918.8 649.7,890.2 637.0,858.0 C624.3,825.8 612.5,798.5 605.0,761.0 C597.5,723.5 592.7,681.0 592.0,633.0 C591.3,585.0 596.8,531.8 601.0,473.0 C605.2,414.2 614.6,308.9 617.0,280.0 Z" fill="#68b04a"/><g clip-path="url(#pc12)"><path d="M620.0,290.0 C646.3,316.8 720.0,506.3 758.0,601.0 C796.0,695.7 818.0,777.8 848.0,858.0 C878.0,938.2 915.2,1020.0 938.0,1082.0 C960.8,1144.0 1008.0,1218.7 985.0,1230.0 C962.0,1241.3 857.5,1210.0 800.0,1150.0 C742.5,1090.0 675.0,955.0 640.0,870.0 C605.0,785.0 596.7,711.7 590.0,640.0 C583.3,568.3 595.0,498.3 600.0,440.0 C605.0,381.7 593.7,263.2 620.0,290.0 Z" fill="#8cc480" opacity="0.9" filter="url(#pb3)"/><path d="M700.0,330.0 C731.7,346.7 890.0,503.3 950.0,620.0 C1010.0,736.7 1051.7,931.7 1060.0,1030.0 C1068.3,1128.3 1026.7,1240.0 1000.0,1210.0 C973.3,1180.0 940.0,965.0 900.0,850.0 C860.0,735.0 793.3,606.7 760.0,520.0 C726.7,433.3 668.3,313.3 700.0,330.0 Z" fill="#62ac44" opacity="0.7" filter="url(#pb3)"/><path d="M640.0,420.0 C650.0,420.0 693.3,503.3 720.0,560.0 C746.7,616.7 796.7,733.3 800.0,760.0 C803.3,786.7 763.3,753.3 740.0,720.0 C716.7,686.7 676.7,610.0 660.0,560.0 C643.3,510.0 630.0,420.0 640.0,420.0 Z" fill="#9ccc90" opacity="0.6" filter="url(#pb3)"/><path d="M590.0,400.0 C586.7,378.3 601.7,340.0 620.0,330.0 C638.3,320.0 696.7,318.3 700.0,340.0 C703.3,361.7 658.3,450.0 640.0,460.0 C621.7,470.0 593.3,421.7 590.0,400.0 Z" fill="#5aa43c" opacity="0.7" filter="url(#pb2)"/><path d="M658.5,367.0 Q709.1,275.5 735.6,165.7 M658.5,367.0 Q557.5,340.0 460.0,282.9 M691.5,444.6 Q742.1,353.2 768.6,243.4 M691.5,444.6 Q590.5,417.6 493.1,360.6 M724.5,522.3 Q775.1,430.8 801.6,321.1 M724.5,522.3 Q623.6,495.3 526.1,438.3 M757.5,599.9 Q808.1,508.5 834.7,398.7 M757.5,599.9 Q656.6,573.0 559.1,515.9 M785.5,679.5 Q842.0,591.6 875.6,483.8 M785.5,679.5 Q686.5,646.0 593.0,582.8 M813.4,759.2 Q869.9,671.3 903.5,563.4 M813.4,759.2 Q714.4,725.7 620.9,662.4 M841.3,838.8 Q897.7,750.9 931.4,643.1 M841.3,838.8 Q742.3,805.3 648.8,742.1 M871.9,917.5 Q924.3,827.1 953.0,717.8 M871.9,917.5 Q771.5,888.5 675.2,829.5 M903.4,995.8 Q955.8,905.4 984.5,796.1 M903.4,995.8 Q803.0,966.8 706.6,907.8 M934.8,1074.1 Q987.2,983.7 1016.0,874.5 M934.8,1074.1 Q834.4,1045.1 738.1,986.1 M962.3,1153.9 Q1019.7,1066.5 1054.5,959.1 M962.3,1153.9 Q863.7,1119.3 770.8,1055.0" fill="none" stroke="#4c9c3c" stroke-width="3" opacity="0.5" stroke-linecap="round"/><path d="M664.4,380.8 Q715.0,289.4 741.5,179.6 M664.4,380.8 Q563.4,353.9 465.9,296.8 M697.4,458.5 Q748.0,367.0 774.5,257.3 M697.4,458.5 Q596.4,431.5 498.9,374.5 M730.4,536.1 Q781.0,444.7 807.5,334.9 M730.4,536.1 Q629.5,509.2 532.0,452.1 M762.6,614.1 Q819.1,526.2 852.7,418.4 M762.6,614.1 Q663.6,580.6 570.1,517.3 M790.5,693.8 Q846.9,605.8 880.6,498.0 M790.5,693.8 Q691.5,660.3 598.0,597.0 M818.4,773.4 Q874.8,685.5 908.5,577.7 M818.4,773.4 Q719.4,739.9 625.8,676.6 M846.3,853.1 Q902.7,765.1 936.4,657.3 M846.3,853.1 Q747.3,819.6 653.7,756.3 M877.5,931.4 Q929.9,841.0 958.7,731.8 M877.5,931.4 Q777.1,902.5 680.8,843.5 M909.0,1009.8 Q961.4,919.4 990.1,810.1 M909.0,1009.8 Q808.6,980.8 712.3,921.8 M940.1,1088.2 Q997.5,1000.9 1032.3,893.4 M940.1,1088.2 Q841.5,1053.6 748.6,989.3 M967.1,1168.1 Q1024.5,1080.8 1059.3,973.4 M967.1,1168.1 Q868.5,1133.5 775.7,1069.2" fill="none" stroke="#a4d49a" stroke-width="2" opacity="0.35" stroke-linecap="round"/><path d="M627.0,293.0 C648.8,344.3 721.2,506.8 758.0,601.0 C794.8,695.2 818.0,777.8 848.0,858.0 C878.0,938.2 914.7,1020.0 938.0,1082.0 C961.3,1144.0 979.7,1205.3 988.0,1230.0" fill="none" stroke="#9ad06c" stroke-width="5" stroke-linecap="round" opacity="0.9"/></g>
<clipPath id="pc13"><path d="M96.0,516.0 C98.0,507.4 91.0,476.0 109.0,459.0 C127.0,442.0 189.8,420.8 204.0,414.0 C208.5,412.9 217.7,418.3 234.0,407.0 C250.3,395.7 281.8,361.8 302.0,346.0 C322.2,330.2 339.3,319.5 355.0,312.0 C370.7,304.5 389.9,302.6 396.0,301.0 C398.9,309.6 406.8,336.0 415.0,358.0 C423.2,380.0 436.8,410.5 445.0,433.0 C453.2,455.5 458.3,469.2 464.0,493.0 C469.7,516.8 473.3,559.0 479.0,576.0 C484.7,593.0 494.2,585.5 498.0,595.0 C501.8,604.5 505.2,621.7 502.0,633.0 C498.8,644.3 487.8,653.5 479.0,663.0 C470.2,672.5 457.8,684.3 449.0,690.0 C440.2,695.7 438.0,700.8 426.0,697.0 C414.0,693.2 388.8,673.8 377.0,667.0 C365.2,660.2 372.8,658.2 355.0,656.0 C337.2,653.8 297.7,654.0 270.0,654.0 C242.3,654.0 207.7,659.5 189.0,656.0 C170.3,652.5 168.7,643.2 158.0,633.0 C147.3,622.8 133.2,607.5 125.0,595.0 C116.8,582.5 113.8,571.2 109.0,558.0 C104.2,544.8 98.0,522.3 96.0,516.0 Z"/></clipPath><path d="M96.0,516.0 C98.0,507.4 91.0,476.0 109.0,459.0 C127.0,442.0 189.8,420.8 204.0,414.0 C208.5,412.9 217.7,418.3 234.0,407.0 C250.3,395.7 281.8,361.8 302.0,346.0 C322.2,330.2 339.3,319.5 355.0,312.0 C370.7,304.5 389.9,302.6 396.0,301.0 C398.9,309.6 406.8,336.0 415.0,358.0 C423.2,380.0 436.8,410.5 445.0,433.0 C453.2,455.5 458.3,469.2 464.0,493.0 C469.7,516.8 473.3,559.0 479.0,576.0 C484.7,593.0 494.2,585.5 498.0,595.0 C501.8,604.5 505.2,621.7 502.0,633.0 C498.8,644.3 487.8,653.5 479.0,663.0 C470.2,672.5 457.8,684.3 449.0,690.0 C440.2,695.7 438.0,700.8 426.0,697.0 C414.0,693.2 388.8,673.8 377.0,667.0 C365.2,660.2 372.8,658.2 355.0,656.0 C337.2,653.8 297.7,654.0 270.0,654.0 C242.3,654.0 207.7,659.5 189.0,656.0 C170.3,652.5 168.7,643.2 158.0,633.0 C147.3,622.8 133.2,607.5 125.0,595.0 C116.8,582.5 113.8,571.2 109.0,558.0 C104.2,544.8 98.0,522.3 96.0,516.0 Z" fill="#52a034"/><g clip-path="url(#pc13)"><path d="M100.0,450.0 C131.7,423.3 241.7,381.7 300.0,400.0 C358.3,418.3 428.3,510.0 450.0,560.0 C471.7,610.0 463.3,685.0 430.0,700.0 C396.7,715.0 303.3,673.3 250.0,650.0 C196.7,626.7 135.0,593.3 110.0,560.0 C85.0,526.7 68.3,476.7 100.0,450.0 Z" fill="#489630" opacity="0.6" filter="url(#pb3)"/><path d="M262.2,422.2 Q283.5,342.5 285.1,261.4 M262.2,422.2 Q182.5,443.5 101.4,445.1 M297.6,457.6 Q319.0,377.9 320.5,296.8 M297.6,457.6 Q217.9,479.0 136.8,480.5 M333.1,493.1 Q354.4,413.4 356.0,332.3 M333.1,493.1 Q253.4,514.4 172.3,516.0 M363.5,532.9 Q397.6,457.8 412.5,378.0 M363.5,532.9 Q281.4,540.8 201.1,529.0 M392.6,573.7 Q426.8,498.6 441.7,418.8 M392.6,573.7 Q310.5,581.6 230.3,569.8 M421.8,614.5 Q455.9,539.4 470.8,459.6 M421.8,614.5 Q339.7,622.5 259.4,610.7" fill="none" stroke="#3f8a2c" stroke-width="3" opacity="0.45" stroke-linecap="round"/><path d="M240.0,400.0 C256.7,416.7 306.7,460.0 340.0,500.0 C373.3,540.0 423.3,616.7 440.0,640.0" fill="none" stroke="#8ac85a" stroke-width="4" stroke-linecap="round" opacity="0.9"/><ellipse cx="146" cy="540" rx="34" ry="11" fill="#946a34" opacity="1" transform="rotate(2 146 540)"/><ellipse cx="150" cy="541" rx="20" ry="5" fill="#c09060" opacity="0.8" transform="rotate(2 150 541)"/><ellipse cx="228" cy="515" rx="30" ry="13" fill="#907a60" opacity="1" transform="rotate(-25 228 515)"/><ellipse cx="390" cy="613" rx="32" ry="18" fill="#70502e" opacity="1" transform="rotate(-25 390 613)"/><ellipse cx="392" cy="613" rx="20" ry="9" fill="#a08468" opacity="1" transform="rotate(-25 392 613)"/><ellipse cx="350" cy="340" rx="10" ry="20" fill="#a08a78" opacity="1" transform="rotate(10 350 340)"/><ellipse cx="340" cy="445" rx="5" ry="10" fill="#7a5a30" opacity="1" transform="rotate(15 340 445)"/></g>
<ellipse cx="470" cy="628" rx="26" ry="40" fill="#b0a080" opacity="1" transform="rotate(15 470 628)"/>
<ellipse cx="462" cy="635" rx="12" ry="28" fill="#7a9a40" opacity="1" transform="rotate(15 462 635)"/>
<ellipse cx="440" cy="358" rx="20" ry="24" fill="#c0a078" opacity="1" transform="rotate(0 440 358)"/>
<ellipse cx="446" cy="365" rx="12" ry="14" fill="#e0c8c0" opacity="1" transform="rotate(0 446 365)"/>
<clipPath id="pc14"><path d="M85.0,1140.0 L85.0,1119.6 L94.1,1117.7 L98.9,1098.5 L108.3,1098.0 L114.8,1079.6 L124.1,1079.7 L131.0,1061.5 L140.2,1061.6 L146.5,1043.3 L155.7,1043.0 L162.3,1024.6 L171.6,1024.6 L178.5,1006.4 L187.7,1006.6 L194.9,988.5 L204.1,988.8 L211.2,970.6 L220.4,970.8 L227.2,952.6 L236.4,952.6 L243.3,934.4 L252.5,934.5 L259.0,916.3 L268.2,916.0 L273.2,897.4 L282.4,896.4 L285.7,877.4 L294.8,875.6 L297.3,856.4 L306.3,854.3 L308.4,834.9 L317.4,832.8 L331.4,837.1 L327.3,845.3 L340.8,859.4 L336.7,867.7 L350.1,881.8 L345.9,890.1 L359.3,904.2 L355.1,912.5 L368.6,926.6 L364.5,934.9 L377.9,949.0 L373.7,957.3 L386.9,971.6 L382.6,979.8 L395.5,994.5 L390.9,1002.6 L403.3,1017.7 L398.4,1025.6 L410.3,1041.0 L405.3,1048.8 L417.0,1064.4 L411.9,1072.1 L423.7,1087.7 L418.6,1095.4 L430.5,1110.9 L425.5,1118.7 L437.2,1134.2 L432.2,1142.0 L443.9,1157.4 L438.9,1165.2 L450.9,1180.5 L446.1,1188.4 L458.6,1203.2 L454.0,1211.3 L467.0,1225.7 L462.8,1233.9 L476.0,1248.1 L471.9,1256.3 L485.3,1270.4 L481.2,1278.7 L477.1,1295.2 L470.8,1288.3 L452.8,1295.8 L446.6,1288.9 L428.6,1296.4 L422.4,1289.5 L404.4,1296.9 L398.2,1290.1 L380.4,1297.8 L373.9,1291.1 L356.1,1299.1 L349.7,1292.4 L331.6,1300.0 L325.5,1293.0 L307.0,1299.5 L301.3,1292.1 L282.5,1297.3 L277.2,1289.6 L258.1,1294.0 L253.3,1286.0 L233.8,1289.3 L229.5,1281.1 L210.0,1282.9 L206.3,1274.3 L186.7,1274.1 L183.8,1265.2 L164.3,1263.5 L162.1,1254.4 L142.8,1250.8 L141.7,1241.5 L122.8,1234.9 L123.4,1225.7 L106.1,1216.1 L108.0,1207.0 L91.9,1195.3 L95.0,1186.5 L81.2,1172.0 L86.2,1164.0 L77.4,1145.9 Z"/></clipPath><path d="M85.0,1140.0 L85.0,1119.6 L94.1,1117.7 L98.9,1098.5 L108.3,1098.0 L114.8,1079.6 L124.1,1079.7 L131.0,1061.5 L140.2,1061.6 L146.5,1043.3 L155.7,1043.0 L162.3,1024.6 L171.6,1024.6 L178.5,1006.4 L187.7,1006.6 L194.9,988.5 L204.1,988.8 L211.2,970.6 L220.4,970.8 L227.2,952.6 L236.4,952.6 L243.3,934.4 L252.5,934.5 L259.0,916.3 L268.2,916.0 L273.2,897.4 L282.4,896.4 L285.7,877.4 L294.8,875.6 L297.3,856.4 L306.3,854.3 L308.4,834.9 L317.4,832.8 L331.4,837.1 L327.3,845.3 L340.8,859.4 L336.7,867.7 L350.1,881.8 L345.9,890.1 L359.3,904.2 L355.1,912.5 L368.6,926.6 L364.5,934.9 L377.9,949.0 L373.7,957.3 L386.9,971.6 L382.6,979.8 L395.5,994.5 L390.9,1002.6 L403.3,1017.7 L398.4,1025.6 L410.3,1041.0 L405.3,1048.8 L417.0,1064.4 L411.9,1072.1 L423.7,1087.7 L418.6,1095.4 L430.5,1110.9 L425.5,1118.7 L437.2,1134.2 L432.2,1142.0 L443.9,1157.4 L438.9,1165.2 L450.9,1180.5 L446.1,1188.4 L458.6,1203.2 L454.0,1211.3 L467.0,1225.7 L462.8,1233.9 L476.0,1248.1 L471.9,1256.3 L485.3,1270.4 L481.2,1278.7 L477.1,1295.2 L470.8,1288.3 L452.8,1295.8 L446.6,1288.9 L428.6,1296.4 L422.4,1289.5 L404.4,1296.9 L398.2,1290.1 L380.4,1297.8 L373.9,1291.1 L356.1,1299.1 L349.7,1292.4 L331.6,1300.0 L325.5,1293.0 L307.0,1299.5 L301.3,1292.1 L282.5,1297.3 L277.2,1289.6 L258.1,1294.0 L253.3,1286.0 L233.8,1289.3 L229.5,1281.1 L210.0,1282.9 L206.3,1274.3 L186.7,1274.1 L183.8,1265.2 L164.3,1263.5 L162.1,1254.4 L142.8,1250.8 L141.7,1241.5 L122.8,1234.9 L123.4,1225.7 L106.1,1216.1 L108.0,1207.0 L91.9,1195.3 L95.0,1186.5 L81.2,1172.0 L86.2,1164.0 L77.4,1145.9 Z" fill="#3c8636"/><g clip-path="url(#pc14)"><path d="M85.0,1140.0 C73.3,1108.3 190.8,1011.7 230.0,960.0 C269.2,908.3 298.3,815.0 320.0,830.0 C341.7,845.0 335.0,974.2 360.0,1050.0 C385.0,1125.8 480.0,1268.3 470.0,1285.0 C460.0,1301.7 364.2,1174.2 300.0,1150.0 C235.8,1125.8 96.7,1171.7 85.0,1140.0 Z" fill="#468e3c" opacity="0.7" filter="url(#pb2)"/><path d="M250.9,981.8 Q292.4,880.0 310.1,771.4 M250.9,981.8 Q140.9,977.7 34.7,949.1 M277.3,1022.7 Q318.8,920.9 336.5,812.3 M277.3,1022.7 Q167.3,1018.6 61.1,990.0 M303.6,1063.6 Q345.2,961.8 362.9,853.2 M303.6,1063.6 Q193.7,1059.5 87.5,1030.9 M330.0,1104.5 Q371.5,1002.7 389.2,894.1 M330.0,1104.5 Q220.1,1100.4 113.9,1071.8 M359.6,1143.1 Q387.5,1036.7 390.9,926.7 M359.6,1143.1 Q250.1,1153.3 141.0,1138.7 M391.1,1180.2 Q419.0,1073.8 422.4,963.9 M391.1,1180.2 Q281.6,1190.4 172.5,1175.9 M422.6,1217.3 Q450.5,1110.9 453.9,1001.0 M422.6,1217.3 Q313.0,1227.5 204.0,1213.0 M454.1,1254.4 Q482.0,1148.0 485.4,1038.1 M454.1,1254.4 Q344.5,1264.6 235.5,1250.1" fill="none" stroke="#2f7230" stroke-width="3" opacity="0.5" stroke-linecap="round"/><path d="M240.0,965.0 C256.7,990.8 300.0,1066.7 340.0,1120.0 C380.0,1173.3 456.7,1257.5 480.0,1285.0" fill="none" stroke="#6aaa48" stroke-width="4" stroke-linecap="round" opacity="0.8"/></g>
<clipPath id="pc15"><path d="M20.0,850.0 C27.5,847.3 51.7,836.2 70.0,832.0 C88.3,827.8 105.0,819.0 130.0,825.0 C155.0,831.0 193.0,854.7 220.0,868.0 C247.0,881.3 281.2,899.5 292.0,905.0 C281.2,908.0 243.7,919.7 220.0,925.0 C196.3,930.3 173.3,941.2 150.0,937.0 C126.7,932.8 101.7,914.5 80.0,900.0 C58.3,885.5 29.0,857.5 20.0,850.0 Z"/></clipPath><path d="M20.0,850.0 C27.5,847.3 51.7,836.2 70.0,832.0 C88.3,827.8 105.0,819.0 130.0,825.0 C155.0,831.0 193.0,854.7 220.0,868.0 C247.0,881.3 281.2,899.5 292.0,905.0 C281.2,908.0 243.7,919.7 220.0,925.0 C196.3,930.3 173.3,941.2 150.0,937.0 C126.7,932.8 101.7,914.5 80.0,900.0 C58.3,885.5 29.0,857.5 20.0,850.0 Z" fill="#a8c434"/><g clip-path="url(#pc15)"><path d="M20.0,850.0 C25.0,840.0 100.0,826.7 130.0,830.0 C160.0,833.3 205.0,860.0 200.0,870.0 C195.0,880.0 130.0,893.3 100.0,890.0 C70.0,886.7 15.0,860.0 20.0,850.0 Z" fill="#c8d84c" opacity="0.8" filter="url(#pb2)"/><path d="M30.0,852.0 C50.0,856.7 107.5,871.2 150.0,880.0 C192.5,888.8 262.5,900.8 285.0,905.0" fill="none" stroke="#8aa42c" stroke-width="3" stroke-linecap="round" opacity="0.7"/></g>
<clipPath id="pc16"><path d="M540.0,1030.0 C547.5,1036.0 575.8,1053.3 590.0,1070.0 C604.2,1086.7 616.7,1105.0 625.0,1130.0 C633.3,1155.0 630.8,1190.0 640.0,1220.0 C649.2,1250.0 669.2,1276.7 680.0,1310.0 C690.8,1343.3 701.7,1385.0 705.0,1420.0 C708.3,1455.0 705.8,1486.7 700.0,1520.0 C694.2,1553.3 683.3,1590.0 670.0,1620.0 C656.7,1650.0 636.7,1676.7 620.0,1700.0 C603.3,1723.3 606.7,1750.0 570.0,1760.0 C533.3,1770.0 436.7,1773.3 400.0,1760.0 C363.3,1746.7 362.5,1710.0 350.0,1680.0 C337.5,1650.0 330.0,1615.0 325.0,1580.0 C320.0,1545.0 318.3,1503.3 320.0,1470.0 C321.7,1436.7 328.0,1405.0 335.0,1380.0 C342.0,1355.0 347.8,1335.0 362.0,1320.0 C376.2,1305.0 402.0,1298.3 420.0,1290.0 C438.0,1281.7 458.3,1288.3 470.0,1270.0 C481.7,1251.7 483.3,1210.0 490.0,1180.0 C496.7,1150.0 501.7,1115.0 510.0,1090.0 C518.3,1065.0 535.5,1039.0 540.0,1030.0 Z"/></clipPath><path d="M540.0,1030.0 C547.5,1036.0 575.8,1053.3 590.0,1070.0 C604.2,1086.7 616.7,1105.0 625.0,1130.0 C633.3,1155.0 630.8,1190.0 640.0,1220.0 C649.2,1250.0 669.2,1276.7 680.0,1310.0 C690.8,1343.3 701.7,1385.0 705.0,1420.0 C708.3,1455.0 705.8,1486.7 700.0,1520.0 C694.2,1553.3 683.3,1590.0 670.0,1620.0 C656.7,1650.0 636.7,1676.7 620.0,1700.0 C603.3,1723.3 606.7,1750.0 570.0,1760.0 C533.3,1770.0 436.7,1773.3 400.0,1760.0 C363.3,1746.7 362.5,1710.0 350.0,1680.0 C337.5,1650.0 330.0,1615.0 325.0,1580.0 C320.0,1545.0 318.3,1503.3 320.0,1470.0 C321.7,1436.7 328.0,1405.0 335.0,1380.0 C342.0,1355.0 347.8,1335.0 362.0,1320.0 C376.2,1305.0 402.0,1298.3 420.0,1290.0 C438.0,1281.7 458.3,1288.3 470.0,1270.0 C481.7,1251.7 483.3,1210.0 490.0,1180.0 C496.7,1150.0 501.7,1115.0 510.0,1090.0 C518.3,1065.0 535.5,1039.0 540.0,1030.0 Z" fill="#4c9a3c"/><g clip-path="url(#pc16)"><path d="M400.0,1320.0 C436.7,1295.0 511.7,1283.3 560.0,1300.0 C608.3,1316.7 673.3,1366.7 690.0,1420.0 C706.7,1473.3 688.3,1573.3 660.0,1620.0 C631.7,1666.7 566.7,1703.3 520.0,1700.0 C473.3,1696.7 410.0,1641.7 380.0,1600.0 C350.0,1558.3 336.7,1496.7 340.0,1450.0 C343.3,1403.3 363.3,1345.0 400.0,1320.0 Z" fill="#68b058" opacity="0.85" filter="url(#pb3)"/><path d="M520.0,1040.0 C540.0,1045.0 606.7,1103.3 620.0,1130.0 C633.3,1156.7 623.3,1180.0 600.0,1200.0 C576.7,1220.0 496.7,1266.7 480.0,1250.0 C463.3,1233.3 493.3,1135.0 500.0,1100.0 C506.7,1065.0 500.0,1035.0 520.0,1040.0 Z" fill="#3f8a36" opacity="0.7" filter="url(#pb2)"/><path d="M532.7,1146.1 Q615.9,1103.5 685.3,1043.1 M532.7,1146.1 Q454.2,1095.4 391.2,1028.4 M528.7,1227.0 Q611.9,1184.3 681.2,1124.0 M528.7,1227.0 Q450.1,1176.2 387.1,1109.3 M524.8,1307.8 Q606.7,1262.7 674.2,1200.3 M524.8,1307.8 Q444.8,1259.5 379.9,1194.4 M523.2,1388.8 Q605.1,1343.7 672.6,1281.3 M523.2,1388.8 Q443.2,1340.4 378.2,1275.4 M521.6,1469.7 Q603.5,1424.6 671.0,1362.2 M521.6,1469.7 Q441.6,1421.4 376.6,1356.3 M519.9,1550.7 Q605.2,1512.3 677.6,1455.6 M519.9,1550.7 Q444.1,1496.0 384.6,1425.9 M511.8,1631.2 Q597.0,1592.9 669.4,1536.2 M511.8,1631.2 Q435.9,1576.5 376.4,1506.4 M503.6,1711.8 Q588.9,1673.4 661.2,1616.7 M503.6,1711.8 Q427.7,1657.1 368.3,1587.0" fill="none" stroke="#3f8c38" stroke-width="3" opacity="0.4" stroke-linecap="round"/><path d="M538.0,1040.0 C535.8,1083.3 528.0,1215.0 525.0,1300.0 C522.0,1385.0 524.2,1475.5 520.0,1550.0 C515.8,1624.5 503.3,1714.2 500.0,1747.0" fill="none" stroke="#7ab854" stroke-width="4" stroke-linecap="round" opacity="0.9"/><ellipse cx="600" cy="1262" rx="46" ry="66" fill="#aaa444" opacity="1" transform="rotate(-8 600 1262)"/><ellipse cx="590" cy="1240" rx="30" ry="30" fill="#8c8c3c" opacity="0.8" transform="rotate(0 590 1240)" filter="url(#pb2)"/><ellipse cx="612" cy="1205" rx="22" ry="20" fill="#b0b088" opacity="0.8" transform="rotate(0 612 1205)" filter="url(#pb2)"/><ellipse cx="468" cy="1190" rx="22" ry="48" fill="#7a7428" opacity="1" transform="rotate(5 468 1190)"/><ellipse cx="445" cy="1472" rx="68" ry="58" fill="#a4b644" opacity="1" transform="rotate(0 445 1472)"/><ellipse cx="440" cy="1450" rx="42" ry="30" fill="#c0c47c" opacity="0.7" transform="rotate(0 440 1450)" filter="url(#pb2)"/><ellipse cx="440" cy="1500" rx="40" ry="20" fill="#b8cc30" opacity="0.7" transform="rotate(0 440 1500)" filter="url(#pb2)"/><ellipse cx="462" cy="1592" rx="62" ry="42" fill="#aca83a" opacity="1" transform="rotate(10 462 1592)"/><ellipse cx="470" cy="1585" rx="8" ry="6" fill="#3a3020" opacity="1" transform="rotate(0 470 1585)"/><ellipse cx="480" cy="1600" rx="30" ry="18" fill="#c0c834" opacity="0.7" transform="rotate(10 480 1600)" filter="url(#pb2)"/><ellipse cx="585" cy="1672" rx="48" ry="33" fill="#a4a848" opacity="1" transform="rotate(-10 585 1672)"/></g>
<ellipse cx="487" cy="1295" rx="18" ry="12" fill="#6a4a28" opacity="1" transform="rotate(0 487 1295)"/>
<clipPath id="pc17"><path d="M1250.0,745.0 C1265.0,739.2 1283.3,736.7 1300.0,735.0 C1316.7,733.3 1330.0,727.5 1350.0,735.0 C1370.0,742.5 1401.7,760.8 1420.0,780.0 C1438.3,799.2 1450.8,821.7 1460.0,850.0 C1469.2,878.3 1475.8,916.7 1475.0,950.0 C1474.2,983.3 1465.8,1016.7 1455.0,1050.0 C1444.2,1083.3 1427.5,1116.7 1410.0,1150.0 C1392.5,1183.3 1371.7,1218.3 1350.0,1250.0 C1328.3,1281.7 1303.3,1314.2 1280.0,1340.0 C1256.7,1365.8 1228.3,1391.3 1210.0,1405.0 C1191.7,1418.7 1176.0,1419.5 1170.0,1422.0 C1164.0,1415.7 1142.5,1400.3 1130.0,1380.0 C1117.5,1359.7 1104.7,1330.0 1095.0,1300.0 C1085.3,1270.0 1076.5,1233.3 1072.0,1200.0 C1067.5,1166.7 1066.7,1133.3 1068.0,1100.0 C1069.3,1066.7 1073.0,1033.3 1080.0,1000.0 C1087.0,966.7 1096.7,930.0 1110.0,900.0 C1123.3,870.0 1143.3,841.7 1160.0,820.0 C1176.7,798.3 1195.0,782.5 1210.0,770.0 C1225.0,757.5 1235.0,750.8 1250.0,745.0 Z"/></clipPath><path d="M1250.0,745.0 C1265.0,739.2 1283.3,736.7 1300.0,735.0 C1316.7,733.3 1330.0,727.5 1350.0,735.0 C1370.0,742.5 1401.7,760.8 1420.0,780.0 C1438.3,799.2 1450.8,821.7 1460.0,850.0 C1469.2,878.3 1475.8,916.7 1475.0,950.0 C1474.2,983.3 1465.8,1016.7 1455.0,1050.0 C1444.2,1083.3 1427.5,1116.7 1410.0,1150.0 C1392.5,1183.3 1371.7,1218.3 1350.0,1250.0 C1328.3,1281.7 1303.3,1314.2 1280.0,1340.0 C1256.7,1365.8 1228.3,1391.3 1210.0,1405.0 C1191.7,1418.7 1176.0,1419.5 1170.0,1422.0 C1164.0,1415.7 1142.5,1400.3 1130.0,1380.0 C1117.5,1359.7 1104.7,1330.0 1095.0,1300.0 C1085.3,1270.0 1076.5,1233.3 1072.0,1200.0 C1067.5,1166.7 1066.7,1133.3 1068.0,1100.0 C1069.3,1066.7 1073.0,1033.3 1080.0,1000.0 C1087.0,966.7 1096.7,930.0 1110.0,900.0 C1123.3,870.0 1143.3,841.7 1160.0,820.0 C1176.7,798.3 1195.0,782.5 1210.0,770.0 C1225.0,757.5 1235.0,750.8 1250.0,745.0 Z" fill="#4c9a38"/><g clip-path="url(#pc17)"><path d="M1250.0,750.0 C1290.0,715.0 1330.0,681.7 1330.0,740.0 C1330.0,798.3 1276.7,986.7 1250.0,1100.0 C1223.3,1213.3 1198.3,1403.3 1170.0,1420.0 C1141.7,1436.7 1093.3,1278.3 1080.0,1200.0 C1066.7,1121.7 1061.7,1025.0 1090.0,950.0 C1118.3,875.0 1210.0,785.0 1250.0,750.0 Z" fill="#54a240" opacity="0.7" filter="url(#pb3)"/><path d="M1340.0,740.0 C1371.7,715.0 1460.0,828.3 1470.0,900.0 C1480.0,971.7 1445.0,1085.8 1400.0,1170.0 C1355.0,1254.2 1220.0,1425.0 1200.0,1405.0 C1180.0,1385.0 1256.7,1160.8 1280.0,1050.0 C1303.3,939.2 1308.3,765.0 1340.0,740.0 Z" fill="#459234" opacity="0.6" filter="url(#pb3)"/><path d="M1323.2,798.8 Q1411.3,767.4 1488.8,716.8 M1323.2,798.8 Q1256.4,733.4 1207.2,655.0 M1308.1,867.7 Q1396.1,836.3 1473.7,785.7 M1308.1,867.7 Q1241.2,802.3 1192.0,723.9 M1292.9,936.6 Q1381.0,905.2 1458.5,854.6 M1292.9,936.6 Q1226.1,871.2 1176.9,792.8 M1275.7,1005.0 Q1364.9,976.9 1444.3,929.3 M1275.7,1005.0 Q1211.4,937.1 1165.2,856.9 M1258.0,1073.3 Q1347.2,1045.2 1426.6,997.6 M1258.0,1073.3 Q1193.7,1005.4 1147.5,925.2 M1240.3,1141.6 Q1329.5,1113.5 1408.9,1065.9 M1240.3,1141.6 Q1176.0,1073.7 1129.8,993.5 M1222.6,1209.9 Q1311.8,1181.8 1391.2,1134.2 M1222.6,1209.9 Q1158.3,1142.0 1112.1,1061.8 M1207.3,1278.7 Q1295.3,1247.0 1372.6,1196.1 M1207.3,1278.7 Q1140.3,1213.6 1090.7,1135.4 M1192.5,1347.7 Q1280.4,1316.0 1357.8,1265.1 M1192.5,1347.7 Q1125.4,1282.6 1075.9,1204.4" fill="none" stroke="#3c8a30" stroke-width="3" opacity="0.45" stroke-linecap="round"/><path d="M1335.0,745.0 C1327.5,779.2 1309.2,870.8 1290.0,950.0 C1270.8,1029.2 1238.7,1142.5 1220.0,1220.0 C1201.3,1297.5 1185.0,1382.5 1178.0,1415.0" fill="none" stroke="#8ac458" stroke-width="4" stroke-linecap="round" opacity="0.9"/><ellipse cx="1255" cy="825" rx="38" ry="28" fill="#5a3a2a" opacity="1" transform="rotate(20 1255 825)"/><ellipse cx="1245" cy="865" rx="14" ry="14" fill="#a08040" opacity="1" transform="rotate(0 1245 865)"/><ellipse cx="1280" cy="750" rx="30" ry="22" fill="#8a6a30" opacity="1" transform="rotate(-10 1280 750)"/><ellipse cx="1262" cy="748" rx="12" ry="16" fill="#c0a040" opacity="1" transform="rotate(0 1262 748)"/><ellipse cx="1345" cy="1100" rx="27" ry="27" fill="#b09448" opacity="1" transform="rotate(0 1345 1100)"/><ellipse cx="1347" cy="1103" rx="17" ry="15" fill="#7a4a32" opacity="1" transform="rotate(0 1347 1103)"/><ellipse cx="1318" cy="935" rx="15" ry="17" fill="#a88840" opacity="1" transform="rotate(0 1318 935)"/><ellipse cx="1318" cy="936" rx="8" ry="9" fill="#7a4a30" opacity="1" transform="rotate(0 1318 936)"/><ellipse cx="1360" cy="790" rx="12" ry="12" fill="#8a6a30" opacity="1" transform="rotate(0 1360 790)"/><ellipse cx="1250" cy="1110" rx="10" ry="12" fill="#8a6430" opacity="1" transform="rotate(0 1250 1110)"/><ellipse cx="1262" cy="1165" rx="11" ry="13" fill="#8a6430" opacity="1" transform="rotate(0 1262 1165)"/><ellipse cx="1160" cy="1218" rx="12" ry="12" fill="#8a6430" opacity="1" transform="rotate(0 1160 1218)"/><ellipse cx="1158" cy="1218" rx="6" ry="6" fill="#5a3020" opacity="1" transform="rotate(0 1158 1218)"/><ellipse cx="1300" cy="1065" rx="8" ry="8" fill="#8a6430" opacity="1" transform="rotate(0 1300 1065)"/><ellipse cx="1228" cy="985" rx="8" ry="8" fill="#8a6a38" opacity="1" transform="rotate(0 1228 985)"/><ellipse cx="1175" cy="1305" rx="10" ry="10" fill="#8a6430" opacity="1" transform="rotate(0 1175 1305)"/><ellipse cx="1392" cy="890" rx="7" ry="7" fill="#8a6a38" opacity="1" transform="rotate(0 1392 890)"/><ellipse cx="1155" cy="1160" rx="7" ry="7" fill="#8a6a38" opacity="1" transform="rotate(0 1155 1160)"/><ellipse cx="1300" cy="1150" rx="8" ry="8" fill="#8a6a38" opacity="1" transform="rotate(0 1300 1150)"/></g>
<path d="M1285.0,720.0 C1290.0,710.0 1309.2,696.7 1320.0,690.0 C1330.8,683.3 1344.2,675.0 1350.0,680.0 C1355.8,685.0 1360.0,710.0 1355.0,720.0 C1350.0,730.0 1330.8,735.0 1320.0,740.0 C1309.2,745.0 1295.8,753.3 1290.0,750.0 C1284.2,746.7 1280.0,730.0 1285.0,720.0 Z" fill="#523626"/>
<path d="M990.0,1232.0 C995.0,1248.3 1002.5,1294.5 1020.0,1330.0 C1037.5,1365.5 1082.5,1425.8 1095.0,1445.0" fill="none" stroke="#5a9c3c" stroke-width="22" stroke-linecap="round" opacity="1"/>
<path d="M1000.0,1235.0 C1005.0,1229.2 1016.7,1208.3 1030.0,1200.0 C1043.3,1191.7 1071.7,1187.5 1080.0,1185.0" fill="none" stroke="#a8c848" stroke-width="16" stroke-linecap="round" opacity="1"/>
<path d="M985.0,1175.0 L990.0,1215.0" fill="none" stroke="#8ab840" stroke-width="12" stroke-linecap="round" opacity="1"/>
<path d="M1175.0,1420.0 L1165.0,1440.0" fill="none" stroke="#5a9c3c" stroke-width="14" stroke-linecap="round" opacity="1"/>
<path d="M1210.0,1410.0 C1218.3,1423.3 1246.7,1471.7 1260.0,1490.0 C1273.3,1508.3 1285.0,1515.0 1290.0,1520.0" fill="none" stroke="#3f7a30" stroke-width="12" stroke-linecap="round" opacity="1"/>
<path d="M1100.0,1440.0 C1093.3,1423.3 1148.3,1435.0 1180.0,1420.0 C1211.7,1405.0 1253.3,1341.7 1290.0,1350.0 C1326.7,1358.3 1368.3,1443.3 1400.0,1470.0 C1431.7,1496.7 1471.7,1463.8 1480.0,1510.0 C1488.3,1556.2 1496.7,1707.5 1450.0,1747.0 C1403.3,1786.5 1236.7,1771.5 1200.0,1747.0 C1163.3,1722.5 1226.7,1637.8 1230.0,1600.0 C1233.3,1562.2 1241.7,1546.7 1220.0,1520.0 C1198.3,1493.3 1106.7,1456.7 1100.0,1440.0 Z" fill="#10301a"/>
<path d="M1340.0,1430.0 C1346.7,1426.7 1399.2,1457.5 1420.0,1480.0 C1440.8,1502.5 1458.2,1552.2 1465.0,1565.0 C1461.2,1561.2 1454.2,1550.8 1440.0,1540.0 C1425.8,1529.2 1396.7,1518.3 1380.0,1500.0 C1363.3,1481.7 1333.3,1433.3 1340.0,1430.0 Z" fill="#b8a86c"/>
<clipPath id="pc18"><path d="M1271.0,1343.0 C1280.3,1326.8 1317.7,1260.7 1333.0,1235.0 C1348.3,1209.3 1351.5,1204.5 1363.0,1189.0 C1374.5,1173.5 1385.8,1155.5 1402.0,1142.0 C1418.2,1128.5 1434.3,1111.2 1460.0,1108.0 C1485.7,1104.8 1523.8,1110.8 1556.0,1123.0 C1588.2,1135.2 1624.0,1161.0 1653.0,1181.0 C1682.0,1201.0 1707.5,1222.5 1730.0,1243.0 C1752.5,1263.5 1777.2,1284.8 1788.0,1304.0 C1798.8,1323.2 1801.5,1345.0 1795.0,1358.0 C1788.5,1371.0 1764.3,1371.7 1749.0,1382.0 C1733.7,1392.3 1715.8,1406.0 1703.0,1420.0 C1690.2,1434.0 1690.0,1449.8 1672.0,1466.0 C1654.0,1482.2 1624.0,1508.0 1595.0,1517.0 C1566.0,1526.0 1527.0,1526.5 1498.0,1520.0 C1469.0,1513.5 1446.7,1496.0 1421.0,1478.0 C1395.3,1460.0 1369.0,1434.5 1344.0,1412.0 C1319.0,1389.5 1282.0,1353.3 1271.0,1343.0 Z"/></clipPath><path d="M1271.0,1343.0 C1280.3,1326.8 1317.7,1260.7 1333.0,1235.0 C1348.3,1209.3 1351.5,1204.5 1363.0,1189.0 C1374.5,1173.5 1385.8,1155.5 1402.0,1142.0 C1418.2,1128.5 1434.3,1111.2 1460.0,1108.0 C1485.7,1104.8 1523.8,1110.8 1556.0,1123.0 C1588.2,1135.2 1624.0,1161.0 1653.0,1181.0 C1682.0,1201.0 1707.5,1222.5 1730.0,1243.0 C1752.5,1263.5 1777.2,1284.8 1788.0,1304.0 C1798.8,1323.2 1801.5,1345.0 1795.0,1358.0 C1788.5,1371.0 1764.3,1371.7 1749.0,1382.0 C1733.7,1392.3 1715.8,1406.0 1703.0,1420.0 C1690.2,1434.0 1690.0,1449.8 1672.0,1466.0 C1654.0,1482.2 1624.0,1508.0 1595.0,1517.0 C1566.0,1526.0 1527.0,1526.5 1498.0,1520.0 C1469.0,1513.5 1446.7,1496.0 1421.0,1478.0 C1395.3,1460.0 1369.0,1434.5 1344.0,1412.0 C1319.0,1389.5 1282.0,1353.3 1271.0,1343.0 Z" fill="#409238"/><g clip-path="url(#pc18)"><path d="M1380.0,1200.0 C1400.0,1158.3 1475.0,1141.7 1520.0,1150.0 C1565.0,1158.3 1630.0,1208.3 1650.0,1250.0 C1670.0,1291.7 1661.7,1361.7 1640.0,1400.0 C1618.3,1438.3 1560.0,1480.0 1520.0,1480.0 C1480.0,1480.0 1423.3,1446.7 1400.0,1400.0 C1376.7,1353.3 1360.0,1241.7 1380.0,1200.0 Z" fill="#58ac50" opacity="0.8" filter="url(#pb3)"/><path d="M1290.0,1340.0 C1290.0,1306.7 1323.3,1235.0 1350.0,1200.0 C1376.7,1165.0 1441.7,1113.3 1450.0,1130.0 C1458.3,1146.7 1416.7,1255.0 1400.0,1300.0 C1383.3,1345.0 1368.3,1393.3 1350.0,1400.0 C1331.7,1406.7 1290.0,1373.3 1290.0,1340.0 Z" fill="#4c9c44" opacity="0.6" filter="url(#pb2)"/><path d="M1661.8,1346.2 Q1701.4,1442.9 1762.2,1524.8 M1661.8,1346.2 Q1719.8,1259.2 1795.6,1191.0 M1612.3,1333.7 Q1632.7,1436.2 1676.8,1528.2 M1612.3,1333.7 Q1685.8,1259.4 1773.2,1206.8 M1563.2,1319.0 Q1583.7,1421.4 1627.7,1513.5 M1563.2,1319.0 Q1636.7,1244.7 1724.1,1192.1 M1514.1,1304.2 Q1534.6,1406.7 1578.7,1498.7 M1514.1,1304.2 Q1587.6,1230.0 1675.1,1177.4 M1466.1,1286.6 Q1477.9,1390.5 1514.1,1485.9 M1466.1,1286.6 Q1545.5,1218.8 1637.1,1173.7 M1418.4,1267.9 Q1430.2,1371.7 1466.4,1467.1 M1418.4,1267.9 Q1497.9,1200.0 1589.4,1154.9 M1370.7,1249.1 Q1382.6,1352.9 1418.8,1448.3 M1370.7,1249.1 Q1450.2,1181.2 1541.7,1136.1" fill="none" stroke="#368434" stroke-width="3.5" opacity="0.45" stroke-linecap="round"/><path d="M1335.0,1235.0 C1362.5,1245.8 1447.5,1281.7 1500.0,1300.0 C1552.5,1318.3 1625.0,1337.5 1650.0,1345.0" fill="none" stroke="#86c460" stroke-width="4" stroke-linecap="round" opacity="0.9"/><ellipse cx="1722" cy="1318" rx="58" ry="27" fill="#aaae40" opacity="1" transform="rotate(10 1722 1318)"/><ellipse cx="1672" cy="1382" rx="28" ry="44" fill="#aca434" opacity="1" transform="rotate(-5 1672 1382)"/><ellipse cx="1700" cy="1335" rx="10" ry="8" fill="#3a2a28" opacity="1" transform="rotate(0 1700 1335)"/><ellipse cx="1740" cy="1330" rx="25" ry="10" fill="#5a8a30" opacity="0.8" transform="rotate(10 1740 1330)"/></g>
<clipPath id="pc19"><path d="M730.0,1610.0 L728.0,1593.9 L734.1,1590.4 L734.7,1574.2 L741.3,1571.6 L744.0,1555.8 L750.9,1553.9 L755.0,1538.5 L762.0,1537.2 L767.4,1522.1 L774.6,1521.5 L781.3,1507.0 L788.4,1506.9 L796.2,1492.9 L803.3,1493.4 L811.9,1479.9 L818.9,1480.8 L828.2,1467.8 L835.2,1468.9 L844.9,1456.3 L851.9,1457.8 L862.5,1445.8 L869.3,1447.8 L880.9,1436.7 L887.6,1439.4 L900.4,1429.7 L906.7,1433.1 L920.4,1424.9 L926.3,1428.9 L940.6,1421.8 L946.2,1426.2 L960.9,1420.0 L966.3,1424.8 L981.4,1419.5 L986.4,1424.6 L1001.8,1420.1 L1006.5,1425.5 L1022.2,1422.5 L1026.4,1428.2 L1042.2,1426.1 L1046.1,1432.1 L1061.9,1430.6 L1065.7,1436.6 L1081.5,1435.4 L1085.2,1441.5 L1100.9,1440.1 L1104.6,1446.5 L1120.5,1446.1 L1123.9,1452.4 L1139.8,1452.1 L1143.0,1458.5 L1159.0,1459.0 L1161.8,1465.6 L1177.7,1467.7 L1179.6,1474.8 L1194.9,1480.2 L1195.3,1487.3 L1209.5,1495.1 L1208.8,1502.2 L1221.6,1512.2 L1219.8,1519.0 L1230.7,1530.9 L1227.8,1537.5 L1236.5,1551.1 L1232.4,1557.0 L1238.8,1571.7 L1234.0,1577.0 L1238.1,1592.7 L1232.5,1597.0 L1234.1,1613.1 L1227.8,1616.6 L1227.2,1632.6 L1220.6,1635.3 L1218.2,1651.2 L1211.3,1653.1 L1207.2,1668.6 L1200.1,1669.8 L1194.0,1684.8 L1186.9,1684.9 L1179.0,1698.9 L1171.9,1698.3 L1162.6,1711.4 L1155.6,1710.1 L1145.5,1722.5 L1138.6,1720.9 L1129.5,1733.5 L1122.4,1732.7 L1113.1,1745.9 L1106.0,1744.3 L1094.4,1755.4 L1087.7,1752.4 L1074.2,1761.2 L1068.2,1757.3 L1053.9,1764.5 L1048.3,1760.2 L1033.7,1766.5 L1028.3,1761.9 L1013.6,1767.9 L1008.2,1763.3 L993.4,1769.0 L988.2,1764.3 L973.3,1769.9 L968.1,1765.1 L953.1,1770.5 L948.0,1765.7 L933.0,1771.0 L927.9,1766.0 L912.9,1771.2 L907.8,1766.3 L892.7,1771.3 L887.7,1766.3 L872.6,1771.2 L867.6,1766.1 L852.3,1770.7 L847.5,1765.6 L832.1,1770.0 L827.4,1764.7 L812.0,1768.8 L807.3,1763.4 L791.8,1766.8 L787.4,1761.2 L771.4,1763.2 L767.8,1756.9 L751.5,1754.8 L750.3,1747.4 L738.6,1735.0 L742.8,1729.2 L737.4,1714.3 L742.0,1709.1 L733.5,1695.9 L737.0,1689.7 L728.7,1676.0 L732.7,1670.0 L725.6,1655.7 L730.0,1650.1 L724.1,1635.2 L729.0,1630.1 L724.5,1614.5 Z"/></clipPath><path d="M730.0,1610.0 L728.0,1593.9 L734.1,1590.4 L734.7,1574.2 L741.3,1571.6 L744.0,1555.8 L750.9,1553.9 L755.0,1538.5 L762.0,1537.2 L767.4,1522.1 L774.6,1521.5 L781.3,1507.0 L788.4,1506.9 L796.2,1492.9 L803.3,1493.4 L811.9,1479.9 L818.9,1480.8 L828.2,1467.8 L835.2,1468.9 L844.9,1456.3 L851.9,1457.8 L862.5,1445.8 L869.3,1447.8 L880.9,1436.7 L887.6,1439.4 L900.4,1429.7 L906.7,1433.1 L920.4,1424.9 L926.3,1428.9 L940.6,1421.8 L946.2,1426.2 L960.9,1420.0 L966.3,1424.8 L981.4,1419.5 L986.4,1424.6 L1001.8,1420.1 L1006.5,1425.5 L1022.2,1422.5 L1026.4,1428.2 L1042.2,1426.1 L1046.1,1432.1 L1061.9,1430.6 L1065.7,1436.6 L1081.5,1435.4 L1085.2,1441.5 L1100.9,1440.1 L1104.6,1446.5 L1120.5,1446.1 L1123.9,1452.4 L1139.8,1452.1 L1143.0,1458.5 L1159.0,1459.0 L1161.8,1465.6 L1177.7,1467.7 L1179.6,1474.8 L1194.9,1480.2 L1195.3,1487.3 L1209.5,1495.1 L1208.8,1502.2 L1221.6,1512.2 L1219.8,1519.0 L1230.7,1530.9 L1227.8,1537.5 L1236.5,1551.1 L1232.4,1557.0 L1238.8,1571.7 L1234.0,1577.0 L1238.1,1592.7 L1232.5,1597.0 L1234.1,1613.1 L1227.8,1616.6 L1227.2,1632.6 L1220.6,1635.3 L1218.2,1651.2 L1211.3,1653.1 L1207.2,1668.6 L1200.1,1669.8 L1194.0,1684.8 L1186.9,1684.9 L1179.0,1698.9 L1171.9,1698.3 L1162.6,1711.4 L1155.6,1710.1 L1145.5,1722.5 L1138.6,1720.9 L1129.5,1733.5 L1122.4,1732.7 L1113.1,1745.9 L1106.0,1744.3 L1094.4,1755.4 L1087.7,1752.4 L1074.2,1761.2 L1068.2,1757.3 L1053.9,1764.5 L1048.3,1760.2 L1033.7,1766.5 L1028.3,1761.9 L1013.6,1767.9 L1008.2,1763.3 L993.4,1769.0 L988.2,1764.3 L973.3,1769.9 L968.1,1765.1 L953.1,1770.5 L948.0,1765.7 L933.0,1771.0 L927.9,1766.0 L912.9,1771.2 L907.8,1766.3 L892.7,1771.3 L887.7,1766.3 L872.6,1771.2 L867.6,1766.1 L852.3,1770.7 L847.5,1765.6 L832.1,1770.0 L827.4,1764.7 L812.0,1768.8 L807.3,1763.4 L791.8,1766.8 L787.4,1761.2 L771.4,1763.2 L767.8,1756.9 L751.5,1754.8 L750.3,1747.4 L738.6,1735.0 L742.8,1729.2 L737.4,1714.3 L742.0,1709.1 L733.5,1695.9 L737.0,1689.7 L728.7,1676.0 L732.7,1670.0 L725.6,1655.7 L730.0,1650.1 L724.1,1635.2 L729.0,1630.1 L724.5,1614.5 Z" fill="#4a9836"/><g clip-path="url(#pc19)"><path d="M760.0,1540.0 C787.5,1505.0 846.7,1455.0 900.0,1440.0 C953.3,1425.0 1073.3,1406.7 1080.0,1450.0 C1086.7,1493.3 990.0,1650.5 940.0,1700.0 C890.0,1749.5 814.2,1755.3 780.0,1747.0 C745.8,1738.7 738.3,1684.5 735.0,1650.0 C731.7,1615.5 732.5,1575.0 760.0,1540.0 Z" fill="#50a03a" opacity="0.7" filter="url(#pb2)"/><path d="M1090.0,1450.0 C1137.5,1413.8 1206.7,1493.3 1225.0,1530.0 C1243.3,1566.7 1229.2,1633.8 1200.0,1670.0 C1170.8,1706.2 1093.3,1734.2 1050.0,1747.0 C1006.7,1759.8 933.3,1796.5 940.0,1747.0 C946.7,1697.5 1042.5,1486.2 1090.0,1450.0 Z" fill="#408a30" opacity="0.7" filter="url(#pb2)"/><path d="M1068.3,1483.5 Q1189.3,1484.3 1305.0,1456.5 M1068.3,1483.5 Q1008.5,1378.4 976.2,1263.8 M1039.8,1532.1 Q1160.8,1532.9 1276.5,1505.1 M1039.8,1532.1 Q980.0,1426.9 947.8,1312.4 M1011.4,1580.6 Q1132.4,1581.4 1248.1,1553.6 M1011.4,1580.6 Q951.6,1475.4 919.3,1360.9 M985.5,1630.5 Q1106.1,1620.9 1219.0,1583.3 M985.5,1630.5 Q916.9,1530.8 874.9,1419.5 M961.3,1681.3 Q1081.9,1671.7 1194.8,1634.1 M961.3,1681.3 Q892.7,1581.6 850.8,1470.3 M937.1,1732.1 Q1057.7,1722.5 1170.6,1684.9 M937.1,1732.1 Q868.5,1632.4 826.6,1521.0" fill="none" stroke="#3a8a2c" stroke-width="3" opacity="0.45" stroke-linecap="round"/><path d="M1085.0,1455.0 C1070.8,1479.2 1025.8,1551.3 1000.0,1600.0 C974.2,1648.7 941.7,1722.5 930.0,1747.0" fill="none" stroke="#86c45a" stroke-width="4" stroke-linecap="round" opacity="0.9"/><ellipse cx="860" cy="1740" rx="70" ry="22" fill="#8a9a48" opacity="1" transform="rotate(0 860 1740)"/><ellipse cx="930" cy="1745" rx="30" ry="14" fill="#5a3a30" opacity="1" transform="rotate(0 930 1745)"/></g>
<clipPath id="pc20"><path d="M1450.0,1760.0 C1396.7,1733.3 1481.7,1638.3 1500.0,1600.0 C1518.3,1561.7 1536.7,1547.5 1560.0,1530.0 C1583.3,1512.5 1616.7,1510.0 1640.0,1495.0 C1663.3,1480.0 1673.0,1457.5 1700.0,1440.0 C1727.0,1422.5 1782.0,1336.7 1802.0,1390.0 C1822.0,1443.3 1878.7,1698.3 1820.0,1760.0 C1761.3,1821.7 1503.3,1786.7 1450.0,1760.0 Z"/></clipPath><path d="M1450.0,1760.0 C1396.7,1733.3 1481.7,1638.3 1500.0,1600.0 C1518.3,1561.7 1536.7,1547.5 1560.0,1530.0 C1583.3,1512.5 1616.7,1510.0 1640.0,1495.0 C1663.3,1480.0 1673.0,1457.5 1700.0,1440.0 C1727.0,1422.5 1782.0,1336.7 1802.0,1390.0 C1822.0,1443.3 1878.7,1698.3 1820.0,1760.0 C1761.3,1821.7 1503.3,1786.7 1450.0,1760.0 Z" fill="#2c6832"/><g clip-path="url(#pc20)"><path d="M1788.3,1436.2 Q1896.5,1455.7 2004.5,1448.7 M1788.3,1436.2 Q1751.0,1332.8 1739.8,1225.2 M1741.6,1491.5 Q1849.9,1510.9 1957.8,1503.9 M1741.6,1491.5 Q1704.3,1388.0 1693.2,1280.4 M1695.0,1546.7 Q1803.2,1566.2 1911.2,1559.2 M1695.0,1546.7 Q1657.7,1443.3 1646.5,1335.7 M1648.4,1602.0 Q1756.9,1619.7 1864.7,1610.8 M1648.4,1602.0 Q1609.3,1499.2 1596.4,1391.8 M1602.6,1658.0 Q1711.2,1675.7 1819.0,1666.9 M1602.6,1658.0 Q1563.6,1555.2 1550.7,1447.8 M1556.9,1714.0 Q1665.5,1731.7 1773.3,1722.9 M1556.9,1714.0 Q1517.9,1611.2 1504.9,1503.8" fill="none" stroke="#245a2a" stroke-width="3" opacity="0.5" stroke-linecap="round"/><path d="M1802.0,1420.0 C1776.7,1450.0 1695.3,1545.5 1650.0,1600.0 C1604.7,1654.5 1550.0,1722.5 1530.0,1747.0" fill="none" stroke="#5a9a48" stroke-width="4" stroke-linecap="round" opacity="0.9"/><path d="M1560.0,1560.0 C1568.3,1538.3 1659.7,1493.3 1700.0,1470.0 C1740.3,1446.7 1810.3,1398.3 1802.0,1420.0 C1793.7,1441.7 1690.3,1576.7 1650.0,1600.0 C1609.7,1623.3 1551.7,1581.7 1560.0,1560.0 Z" fill="#3a7a3c" opacity="0.6" filter="url(#pb2)"/></g>
<path d="M1740.0,1400.0 C1747.0,1390.0 1791.7,1360.0 1802.0,1360.0 C1812.3,1360.0 1809.0,1390.0 1802.0,1400.0 C1795.0,1410.0 1770.3,1420.0 1760.0,1420.0 C1749.7,1420.0 1733.0,1410.0 1740.0,1400.0 Z" fill="#3a8030"/>
<path d="M1690.0,1180.0 C1697.0,1165.0 1783.3,1160.0 1802.0,1180.0 C1820.7,1200.0 1809.0,1285.0 1802.0,1300.0 C1795.0,1315.0 1778.7,1290.0 1760.0,1270.0 C1741.3,1250.0 1683.0,1195.0 1690.0,1180.0 Z" fill="#2f7030"/>
</g>
</g>
<g fill="#fff">
<path d="M794.2,526 L846.6,490.3 L846.6,515 L998.5,515 L998.5,537.8 L846.6,537.8 L846.6,560.6 Z"/>
<path d="M1371.3,790 L1318.9,755.6 L1318.9,779.1 L1166.3,779.1 L1166.3,801.2 L1318.9,801.2 L1318.9,825.8 Z"/>
<path d="M854.2,1192.5 L903.6,1158 L903.6,1182.2 L1057.3,1182.2 L1057.3,1203.8 L903.6,1203.8 L903.6,1228.3 Z"/>
</g>
<defs>
<filter id="lb" x="-5%" y="-5%" width="110%" height="110%"><feGaussianBlur stdDeviation="1.6"/></filter>
<filter id="lb2" x="-20%" y="-20%" width="140%" height="140%"><feGaussianBlur stdDeviation="7"/></filter>
<filter id="lb3" x="-30%" y="-30%" width="160%" height="160%"><feGaussianBlur stdDeviation="14"/></filter>
</defs>
<clipPath id="lc1"><path d="M2257.5,27.5 C2269.7,26.3 2280.1,29.0 2290.5,36.6 C2300.9,44.3 2311.8,61.1 2319.8,73.3 C2327.7,85.5 2332.6,97.7 2338.1,109.9 C2343.6,122.1 2349.4,134.3 2352.7,146.5 C2356.1,158.7 2358.2,171.6 2358.2,183.2 C2358.2,194.7 2355.8,207.0 2352.7,216.1 C2349.7,225.3 2341.5,228.3 2339.9,238.1 C2338.4,247.9 2343.0,262.5 2343.6,274.7 C2344.2,286.9 2345.1,296.1 2343.6,311.4 C2342.1,326.6 2337.8,348.0 2334.4,366.3 C2331.1,384.6 2327.1,402.9 2323.4,421.2 C2319.8,439.6 2316.1,457.9 2312.5,476.2 C2308.8,494.5 2304.8,516.5 2301.5,531.1 C2298.1,545.8 2293.5,552.8 2292.3,564.1 C2291.1,575.4 2295.1,592.8 2294.1,598.9 C2293.2,605.0 2288.9,605.3 2286.8,600.7 C2284.7,596.2 2285.6,580.6 2281.3,571.4 C2277.0,562.3 2270.0,556.8 2261.2,545.8 C2252.3,534.8 2238.6,520.1 2228.2,505.5 C2217.8,490.8 2208.1,475.0 2198.9,457.9 C2189.7,440.8 2180.6,421.2 2173.3,402.9 C2165.9,384.6 2159.8,366.3 2154.9,348.0 C2150.1,329.7 2145.5,311.4 2144.0,293.0 C2142.4,274.7 2146.4,255.2 2145.8,238.1 C2145.2,221.0 2139.4,205.7 2140.3,190.5 C2141.2,175.2 2145.8,159.3 2151.3,146.5 C2156.8,133.7 2166.5,125.8 2173.3,113.6 C2180.0,101.3 2184.2,84.9 2191.6,73.3 C2198.9,61.7 2206.2,51.6 2217.2,44.0 C2228.2,36.3 2245.3,28.7 2257.5,27.5 Z"/></clipPath><g filter="url(#lb)"><path d="M2257.5,27.5 C2269.7,26.3 2280.1,29.0 2290.5,36.6 C2300.9,44.3 2311.8,61.1 2319.8,73.3 C2327.7,85.5 2332.6,97.7 2338.1,109.9 C2343.6,122.1 2349.4,134.3 2352.7,146.5 C2356.1,158.7 2358.2,171.6 2358.2,183.2 C2358.2,194.7 2355.8,207.0 2352.7,216.1 C2349.7,225.3 2341.5,228.3 2339.9,238.1 C2338.4,247.9 2343.0,262.5 2343.6,274.7 C2344.2,286.9 2345.1,296.1 2343.6,311.4 C2342.1,326.6 2337.8,348.0 2334.4,366.3 C2331.1,384.6 2327.1,402.9 2323.4,421.2 C2319.8,439.6 2316.1,457.9 2312.5,476.2 C2308.8,494.5 2304.8,516.5 2301.5,531.1 C2298.1,545.8 2293.5,552.8 2292.3,564.1 C2291.1,575.4 2295.1,592.8 2294.1,598.9 C2293.2,605.0 2288.9,605.3 2286.8,600.7 C2284.7,596.2 2285.6,580.6 2281.3,571.4 C2277.0,562.3 2270.0,556.8 2261.2,545.8 C2252.3,534.8 2238.6,520.1 2228.2,505.5 C2217.8,490.8 2208.1,475.0 2198.9,457.9 C2189.7,440.8 2180.6,421.2 2173.3,402.9 C2165.9,384.6 2159.8,366.3 2154.9,348.0 C2150.1,329.7 2145.5,311.4 2144.0,293.0 C2142.4,274.7 2146.4,255.2 2145.8,238.1 C2145.2,221.0 2139.4,205.7 2140.3,190.5 C2141.2,175.2 2145.8,159.3 2151.3,146.5 C2156.8,133.7 2166.5,125.8 2173.3,113.6 C2180.0,101.3 2184.2,84.9 2191.6,73.3 C2198.9,61.7 2206.2,51.6 2217.2,44.0 C2228.2,36.3 2245.3,28.7 2257.5,27.5 Z" fill="#335f2d"/><g clip-path="url(#lc1)"><path d="M2257.5,27.5 C2269.1,54.9 2258.7,163.3 2261.2,219.8 C2263.6,276.3 2267.3,307.7 2272.2,366.3 C2277.0,424.9 2300.9,547.0 2290.5,571.4 C2280.1,595.8 2235.5,559.2 2209.9,512.8 C2184.2,466.4 2148.8,351.0 2136.6,293.0 C2124.4,235.0 2127.5,204.5 2136.6,164.8 C2145.8,125.2 2171.4,77.8 2191.6,54.9 C2211.7,32.1 2245.9,0.0 2257.5,27.5 Z" fill="#3d6c45" opacity="0.9" filter="url(#lb2)"/><path d="M2173.3,139.2 C2189.1,116.6 2239.2,101.3 2253.8,120.9 C2268.5,140.4 2258.7,215.5 2261.2,256.4 C2263.6,297.3 2266.1,329.7 2268.5,366.3 C2270.9,402.9 2283.8,460.9 2275.8,476.2 C2267.9,491.5 2236.8,476.2 2220.9,457.9 C2205.0,439.6 2191.0,399.9 2180.6,366.3 C2170.2,332.7 2159.8,294.3 2158.6,256.4 C2157.4,218.6 2157.4,161.8 2173.3,139.2 Z" fill="#4f8068" opacity="0.75" filter="url(#lb3)"/><path d="M2202.6,373.6 C2209.9,361.4 2253.2,352.3 2264.8,366.3 C2276.4,380.3 2279.5,445.7 2272.2,457.9 C2264.8,470.1 2232.5,453.6 2220.9,439.6 C2209.3,425.5 2195.2,385.8 2202.6,373.6 Z" fill="#6a9a8c" opacity="0.6" filter="url(#lb3)"/><path d="M2257.5,27.5 C2264.8,6.1 2288.6,30.2 2305.1,54.9 C2321.6,79.7 2350.3,136.1 2356.4,175.8 C2362.5,215.5 2347.9,249.1 2341.8,293.0 C2335.7,337.0 2328.0,393.2 2319.8,439.6 C2311.5,486.0 2300.2,583.6 2292.3,571.4 C2284.4,559.2 2277.4,431.0 2272.2,366.3 C2267.0,301.6 2263.6,239.6 2261.2,183.2 C2258.7,126.7 2250.2,48.8 2257.5,27.5 Z" fill="#2c5726" opacity="0.85" filter="url(#lb2)"/><path d="M2258.6,97.1 Q2202.1,63.0 2155.5,17.1 M2259.4,148.7 Q2202.2,115.9 2154.7,71.0 M2261.4,200.3 Q2204.1,167.4 2156.6,122.5 M2263.3,251.8 Q2206.0,219.0 2158.5,174.1 M2265.6,303.3 Q2207.2,272.7 2158.0,229.6 M2269.5,354.8 Q2211.0,324.1 2161.9,281.0 M2273.3,406.2 Q2214.9,375.5 2165.7,332.5 M2277.5,457.6 Q2218.5,428.1 2168.5,386.1 M2282.4,509.0 Q2223.4,479.5 2173.4,437.4" fill="none" stroke="#2a5530" stroke-width="4" opacity="0.6" stroke-linecap="round"/><path d="M2258.6,97.1 Q2300.1,61.1 2333.9,16.7 M2259.4,148.7 Q2300.2,111.8 2333.0,66.6 M2261.4,200.3 Q2302.1,163.4 2334.9,118.2 M2263.3,251.8 Q2304.1,214.9 2336.9,169.7 M2265.6,303.3 Q2305.0,264.9 2336.1,218.6 M2269.5,354.8 Q2308.8,316.4 2339.9,270.0 M2273.3,406.2 Q2312.7,367.8 2343.8,321.4 M2277.5,457.6 Q2316.1,418.4 2346.3,371.5 M2282.4,509.0 Q2321.0,469.8 2351.2,422.8" fill="none" stroke="#274e22" stroke-width="2.5" opacity="0.5" stroke-linecap="round"/><path d="M2257.5,29.3 C2257.8,48.8 2258.1,102.6 2259.3,146.5 C2260.6,190.5 2262.1,244.2 2264.8,293.0 C2267.6,341.9 2271.6,389.5 2275.8,439.6 C2280.1,489.6 2288.0,567.8 2290.5,593.4" fill="none" stroke="#23471f" stroke-width="3.5" opacity="0.9"/></g></g>
<clipPath id="lc2"><path d="M2502.9,25.6 C2514.5,22.9 2522.5,22.6 2532.2,27.5 C2542.0,32.4 2551.8,44.3 2561.5,54.9 C2571.3,65.6 2581.7,79.4 2590.8,91.6 C2600.0,103.8 2610.4,116.0 2616.5,128.2 C2622.6,140.4 2626.9,149.6 2627.5,164.8 C2628.1,180.1 2620.1,201.5 2620.1,219.8 C2620.1,238.1 2625.6,256.4 2627.5,274.7 C2629.3,293.0 2630.8,308.3 2631.1,329.7 C2631.4,351.0 2629.9,378.5 2629.3,402.9 C2628.7,427.4 2628.4,451.8 2627.5,476.2 C2626.6,500.6 2625.0,527.5 2623.8,549.5 C2622.6,571.4 2622.0,597.7 2620.1,608.1 C2618.3,618.4 2617.7,617.8 2612.8,611.7 C2607.9,605.6 2600.0,587.9 2590.8,571.4 C2581.7,554.9 2569.5,531.7 2557.9,512.8 C2546.3,493.9 2533.5,476.2 2521.2,457.9 C2509.0,439.6 2495.0,421.2 2484.6,402.9 C2474.2,384.6 2466.0,366.3 2459.0,348.0 C2452.0,329.7 2445.5,311.4 2442.5,293.0 C2439.4,274.7 2442.8,256.4 2440.7,238.1 C2438.5,219.8 2432.1,201.5 2429.7,183.2 C2427.2,164.8 2424.2,145.3 2426.0,128.2 C2427.8,111.1 2434.6,94.6 2440.7,80.6 C2446.8,66.5 2452.3,53.1 2462.6,44.0 C2473.0,34.8 2491.3,28.4 2502.9,25.6 Z"/></clipPath><g filter="url(#lb)"><path d="M2502.9,25.6 C2514.5,22.9 2522.5,22.6 2532.2,27.5 C2542.0,32.4 2551.8,44.3 2561.5,54.9 C2571.3,65.6 2581.7,79.4 2590.8,91.6 C2600.0,103.8 2610.4,116.0 2616.5,128.2 C2622.6,140.4 2626.9,149.6 2627.5,164.8 C2628.1,180.1 2620.1,201.5 2620.1,219.8 C2620.1,238.1 2625.6,256.4 2627.5,274.7 C2629.3,293.0 2630.8,308.3 2631.1,329.7 C2631.4,351.0 2629.9,378.5 2629.3,402.9 C2628.7,427.4 2628.4,451.8 2627.5,476.2 C2626.6,500.6 2625.0,527.5 2623.8,549.5 C2622.6,571.4 2622.0,597.7 2620.1,608.1 C2618.3,618.4 2617.7,617.8 2612.8,611.7 C2607.9,605.6 2600.0,587.9 2590.8,571.4 C2581.7,554.9 2569.5,531.7 2557.9,512.8 C2546.3,493.9 2533.5,476.2 2521.2,457.9 C2509.0,439.6 2495.0,421.2 2484.6,402.9 C2474.2,384.6 2466.0,366.3 2459.0,348.0 C2452.0,329.7 2445.5,311.4 2442.5,293.0 C2439.4,274.7 2442.8,256.4 2440.7,238.1 C2438.5,219.8 2432.1,201.5 2429.7,183.2 C2427.2,164.8 2424.2,145.3 2426.0,128.2 C2427.8,111.1 2434.6,94.6 2440.7,80.6 C2446.8,66.5 2452.3,53.1 2462.6,44.0 C2473.0,34.8 2491.3,28.4 2502.9,25.6 Z" fill="#315d2b"/><g clip-path="url(#lc2)"><path d="M2502.9,25.6 C2513.9,31.7 2509.0,59.2 2513.9,91.6 C2518.8,123.9 2524.9,174.0 2532.2,219.8 C2539.6,265.6 2548.7,317.5 2557.9,366.3 C2567.0,415.1 2577.4,472.5 2587.2,512.8 C2596.9,553.1 2624.4,611.1 2616.5,608.1 C2608.5,605.0 2567.6,540.9 2539.6,494.5 C2511.5,448.1 2467.5,387.7 2448.0,329.7 C2428.4,271.7 2422.3,192.3 2422.3,146.5 C2422.3,100.7 2434.6,75.1 2448.0,54.9 C2461.4,34.8 2491.9,19.5 2502.9,25.6 Z" fill="#3a6a42" opacity="0.9" filter="url(#lb2)"/><path d="M2444.3,256.4 C2455.9,236.3 2517.6,214.9 2535.9,227.1 C2554.2,239.3 2548.1,291.2 2554.2,329.7 C2560.3,368.1 2578.0,439.6 2572.5,457.9 C2567.0,476.2 2538.9,457.9 2521.2,439.6 C2503.5,421.2 2479.1,378.5 2466.3,348.0 C2453.5,317.5 2432.7,276.6 2444.3,256.4 Z" fill="#568672" opacity="0.8" filter="url(#lb3)"/><path d="M2466.3,285.7 C2472.4,266.8 2524.3,251.5 2539.6,271.1 C2554.8,290.6 2564.0,384.0 2557.9,402.9 C2551.8,421.9 2518.2,404.2 2502.9,384.6 C2487.7,365.1 2460.2,304.6 2466.3,285.7 Z" fill="#6f9d92" opacity="0.55" filter="url(#lb3)"/><path d="M2506.6,25.6 C2514.5,19.5 2541.4,31.7 2561.5,54.9 C2581.7,78.1 2615.9,119.0 2627.5,164.8 C2639.1,210.6 2631.1,277.8 2631.1,329.7 C2631.1,381.6 2629.3,429.8 2627.5,476.2 C2625.6,522.6 2626.9,602.0 2620.1,608.1 C2613.4,614.2 2597.6,553.1 2587.2,512.8 C2576.8,472.5 2567.0,415.1 2557.9,366.3 C2548.7,317.5 2539.6,265.6 2532.2,219.8 C2524.9,174.0 2518.2,123.9 2513.9,91.6 C2509.6,59.2 2498.7,31.7 2506.6,25.6 Z" fill="#2d5a25" opacity="0.85" filter="url(#lb2)"/><path d="M2510.8,99.8 Q2446.5,68.6 2390.8,23.8 M2519.4,153.0 Q2455.0,121.8 2399.3,76.9 M2529.5,205.9 Q2464.0,177.1 2406.6,134.5 M2540.0,258.7 Q2474.5,229.9 2417.1,187.3 M2550.1,311.5 Q2485.4,281.2 2429.0,237.2 M2559.4,364.6 Q2494.6,334.3 2438.3,290.3 M2568.7,417.6 Q2503.9,387.3 2447.6,343.3 M2580.2,470.2 Q2513.4,444.6 2454.1,404.7 M2593.2,522.4 Q2526.5,496.8 2467.1,457.0" fill="none" stroke="#2a5530" stroke-width="4" opacity="0.6" stroke-linecap="round"/><path d="M2510.8,99.8 Q2546.9,58.3 2574.0,9.5 M2519.4,153.0 Q2555.4,111.4 2582.5,62.6 M2529.5,205.9 Q2563.8,162.9 2589.0,113.1 M2540.0,258.7 Q2574.4,215.7 2599.6,165.9 M2550.1,311.5 Q2585.5,269.5 2611.9,220.2 M2559.4,364.6 Q2594.8,322.5 2621.2,273.3 M2568.7,417.6 Q2604.1,375.5 2630.5,326.3 M2580.2,470.2 Q2612.5,425.6 2635.3,374.7 M2593.2,522.4 Q2625.5,477.9 2648.3,426.9" fill="none" stroke="#274e22" stroke-width="2.5" opacity="0.5" stroke-linecap="round"/><path d="M2506.6,73.3 C2509.0,88.5 2514.5,128.2 2521.2,164.8 C2528.0,201.5 2538.3,247.3 2546.9,293.0 C2555.4,338.8 2561.5,388.3 2572.5,439.6 C2583.5,490.8 2606.1,573.9 2612.8,600.7" fill="none" stroke="#264d20" stroke-width="3.5" opacity="0.9"/><ellipse cx="2502.9" cy="67.8" rx="12.0" ry="16.0" fill="#7d8a55" opacity="0.8" transform="rotate(0 2502.9 67.8)" filter="url(#lb2)"/></g></g>
<clipPath id="lc3"><path d="M2826.4,33.0 C2830.6,32.4 2838.9,41.5 2846.5,51.3 C2854.2,61.1 2863.6,76.9 2872.2,91.6 C2880.7,106.2 2890.5,123.9 2897.8,139.2 C2905.1,154.5 2910.6,166.7 2916.1,183.2 C2921.6,199.6 2926.5,219.8 2930.8,238.1 C2935.0,256.4 2939.0,274.7 2941.8,293.0 C2944.5,311.4 2946.6,332.7 2947.3,348.0 C2947.9,363.2 2947.6,369.4 2945.4,384.6 C2943.3,399.9 2939.3,422.5 2934.4,439.6 C2929.5,456.7 2923.4,470.1 2916.1,487.2 C2908.8,504.3 2899.6,525.6 2890.5,542.1 C2881.3,558.6 2869.4,575.7 2861.2,586.1 C2852.9,596.5 2845.6,602.0 2841.0,604.4 C2836.4,606.8 2836.4,605.0 2833.7,600.7 C2831.0,596.5 2829.7,590.4 2824.5,578.8 C2819.4,567.2 2810.5,549.5 2802.6,531.1 C2794.6,512.8 2784.2,490.2 2776.9,468.9 C2769.6,447.5 2763.5,423.1 2758.6,402.9 C2753.7,382.8 2749.8,366.3 2747.6,348.0 C2745.5,329.7 2744.6,311.4 2745.8,293.0 C2747.0,274.7 2751.3,256.4 2754.9,238.1 C2758.6,219.8 2762.3,201.5 2767.8,183.2 C2773.3,164.8 2780.9,145.9 2787.9,128.2 C2794.9,110.5 2804.4,89.1 2809.9,76.9 C2815.4,64.7 2818.1,62.3 2820.9,54.9 C2823.6,47.6 2822.1,33.6 2826.4,33.0 Z"/></clipPath><g filter="url(#lb)"><path d="M2826.4,33.0 C2830.6,32.4 2838.9,41.5 2846.5,51.3 C2854.2,61.1 2863.6,76.9 2872.2,91.6 C2880.7,106.2 2890.5,123.9 2897.8,139.2 C2905.1,154.5 2910.6,166.7 2916.1,183.2 C2921.6,199.6 2926.5,219.8 2930.8,238.1 C2935.0,256.4 2939.0,274.7 2941.8,293.0 C2944.5,311.4 2946.6,332.7 2947.3,348.0 C2947.9,363.2 2947.6,369.4 2945.4,384.6 C2943.3,399.9 2939.3,422.5 2934.4,439.6 C2929.5,456.7 2923.4,470.1 2916.1,487.2 C2908.8,504.3 2899.6,525.6 2890.5,542.1 C2881.3,558.6 2869.4,575.7 2861.2,586.1 C2852.9,596.5 2845.6,602.0 2841.0,604.4 C2836.4,606.8 2836.4,605.0 2833.7,600.7 C2831.0,596.5 2829.7,590.4 2824.5,578.8 C2819.4,567.2 2810.5,549.5 2802.6,531.1 C2794.6,512.8 2784.2,490.2 2776.9,468.9 C2769.6,447.5 2763.5,423.1 2758.6,402.9 C2753.7,382.8 2749.8,366.3 2747.6,348.0 C2745.5,329.7 2744.6,311.4 2745.8,293.0 C2747.0,274.7 2751.3,256.4 2754.9,238.1 C2758.6,219.8 2762.3,201.5 2767.8,183.2 C2773.3,164.8 2780.9,145.9 2787.9,128.2 C2794.9,110.5 2804.4,89.1 2809.9,76.9 C2815.4,64.7 2818.1,62.3 2820.9,54.9 C2823.6,47.6 2822.1,33.6 2826.4,33.0 Z" fill="#3d7833"/><g clip-path="url(#lc3)"><path d="M2826.4,33.0 C2830.0,51.3 2829.1,127.6 2831.9,183.2 C2834.6,238.7 2841.3,296.1 2842.9,366.3 C2844.4,436.5 2852.6,589.1 2841.0,604.4 C2829.4,619.7 2789.4,506.7 2773.3,457.9 C2757.1,409.0 2745.2,357.1 2744.0,311.4 C2742.7,265.6 2754.9,222.8 2765.9,183.2 C2776.9,143.5 2799.8,98.3 2809.9,73.3 C2820.0,48.2 2822.7,14.7 2826.4,33.0 Z" fill="#3f7a35" opacity="0.9" filter="url(#lb2)"/><path d="M2835.5,219.8 C2847.7,199.0 2902.1,186.8 2919.8,205.1 C2937.5,223.4 2939.3,290.6 2941.8,329.7 C2944.2,368.7 2943.0,412.1 2934.4,439.6 C2925.9,467.0 2903.9,488.4 2890.5,494.5 C2877.0,500.6 2861.2,503.7 2853.8,476.2 C2846.5,448.7 2849.6,372.4 2846.5,329.7 C2843.5,286.9 2823.3,240.5 2835.5,219.8 Z" fill="#4d8a5c" opacity="0.8" filter="url(#lb3)"/><path d="M2846.5,249.1 C2855.7,214.9 2897.8,221.0 2912.5,234.4 C2927.1,247.9 2933.2,298.5 2934.4,329.7 C2935.7,360.8 2932.6,402.9 2919.8,421.2 C2907.0,439.6 2869.7,468.3 2857.5,439.6 C2845.3,410.9 2837.4,283.3 2846.5,249.1 Z" fill="#5e9a78" opacity="0.5" filter="url(#lb3)"/><ellipse cx="2799.6" cy="177.7" rx="24.0" ry="36.0" fill="#9aa324" opacity="0.95" transform="rotate(0 2799.6 177.7)" filter="url(#lb2)"/><ellipse cx="2797.1" cy="172.2" rx="12.0" ry="20.0" fill="#b0b028" opacity="0.8" transform="rotate(0 2797.1 172.2)" filter="url(#lb2)"/><path d="M2829.9,121.3 Q2878.3,85.0 2917.3,38.8 M2829.9,121.3 Q2779.2,88.2 2737.2,44.6 M2831.5,170.6 Q2879.9,134.3 2918.9,88.2 M2831.5,170.6 Q2780.8,137.6 2738.8,94.0 M2833.7,220.0 Q2881.5,182.8 2919.7,136.0 M2833.7,220.0 Q2782.5,187.8 2739.7,145.0 M2836.2,269.3 Q2883.9,232.2 2922.2,185.3 M2836.2,269.3 Q2784.9,237.1 2742.2,194.3 M2838.6,318.6 Q2886.4,281.5 2924.7,234.7 M2838.6,318.6 Q2787.4,286.5 2744.7,243.7 M2841.1,368.0 Q2889.7,332.1 2929.2,286.2 M2841.1,368.0 Q2790.7,334.5 2749.0,290.7 M2842.3,417.4 Q2891.0,381.4 2930.4,335.5 M2842.3,417.4 Q2791.9,383.9 2750.2,340.0 M2843.5,466.7 Q2892.2,430.8 2931.6,384.9 M2843.5,466.7 Q2793.1,433.3 2751.5,389.4 M2844.6,516.1 Q2895.5,483.5 2937.9,440.4 M2844.6,516.1 Q2796.5,479.4 2757.8,432.9" fill="none" stroke="#336c2c" stroke-width="3.5" opacity="0.55" stroke-linecap="round"/><path d="M2827.1,36.6 C2827.9,61.1 2829.5,128.2 2831.9,183.2 C2834.2,238.1 2838.9,311.4 2841.0,366.3 C2843.2,421.2 2844.7,473.7 2844.7,512.8 C2844.7,551.9 2841.6,586.1 2841.0,600.7" fill="none" stroke="#55913d" stroke-width="3" opacity="0.9"/></g></g>
<clipPath id="lc4"><path d="M3179.9,9.2 C3185.7,6.7 3188.4,13.1 3192.7,22.0 C3196.9,30.8 3200.9,47.6 3205.5,62.3 C3210.1,76.9 3214.7,92.8 3220.1,109.9 C3225.6,127.0 3231.7,146.5 3238.5,164.8 C3245.2,183.2 3255.3,201.5 3260.4,219.8 C3265.6,238.1 3268.1,256.4 3269.6,274.7 C3271.1,293.0 3271.1,314.4 3269.6,329.7 C3268.1,344.9 3265.0,354.1 3260.4,366.3 C3255.9,378.5 3248.8,390.7 3242.1,402.9 C3235.4,415.1 3228.1,425.5 3220.1,439.6 C3212.2,453.6 3203.1,471.9 3194.5,487.2 C3186.0,502.4 3176.8,517.7 3168.9,531.1 C3160.9,544.6 3152.7,558.6 3146.9,567.8 C3141.1,576.9 3137.1,579.1 3134.1,586.1 C3131.0,593.1 3130.4,606.2 3128.6,609.9 C3126.7,613.6 3123.7,612.6 3123.1,608.1 C3122.5,603.5 3127.0,592.2 3124.9,582.4 C3122.8,572.6 3116.4,564.1 3110.3,549.5 C3104.2,534.8 3095.0,512.8 3088.3,494.5 C3081.6,476.2 3074.8,457.9 3070.0,439.6 C3065.1,421.2 3061.1,402.9 3059.0,384.6 C3056.8,366.3 3056.5,348.0 3057.1,329.7 C3057.8,311.4 3060.5,291.8 3062.6,274.7 C3064.8,257.6 3066.3,242.4 3070.0,227.1 C3073.6,211.8 3078.5,198.4 3084.6,183.2 C3090.7,167.9 3098.7,152.0 3106.6,135.5 C3114.5,119.0 3123.7,100.7 3132.2,84.2 C3140.8,67.8 3149.9,49.1 3157.9,36.6 C3165.8,24.1 3174.1,11.6 3179.9,9.2 Z"/></clipPath><g filter="url(#lb)"><path d="M3179.9,9.2 C3185.7,6.7 3188.4,13.1 3192.7,22.0 C3196.9,30.8 3200.9,47.6 3205.5,62.3 C3210.1,76.9 3214.7,92.8 3220.1,109.9 C3225.6,127.0 3231.7,146.5 3238.5,164.8 C3245.2,183.2 3255.3,201.5 3260.4,219.8 C3265.6,238.1 3268.1,256.4 3269.6,274.7 C3271.1,293.0 3271.1,314.4 3269.6,329.7 C3268.1,344.9 3265.0,354.1 3260.4,366.3 C3255.9,378.5 3248.8,390.7 3242.1,402.9 C3235.4,415.1 3228.1,425.5 3220.1,439.6 C3212.2,453.6 3203.1,471.9 3194.5,487.2 C3186.0,502.4 3176.8,517.7 3168.9,531.1 C3160.9,544.6 3152.7,558.6 3146.9,567.8 C3141.1,576.9 3137.1,579.1 3134.1,586.1 C3131.0,593.1 3130.4,606.2 3128.6,609.9 C3126.7,613.6 3123.7,612.6 3123.1,608.1 C3122.5,603.5 3127.0,592.2 3124.9,582.4 C3122.8,572.6 3116.4,564.1 3110.3,549.5 C3104.2,534.8 3095.0,512.8 3088.3,494.5 C3081.6,476.2 3074.8,457.9 3070.0,439.6 C3065.1,421.2 3061.1,402.9 3059.0,384.6 C3056.8,366.3 3056.5,348.0 3057.1,329.7 C3057.8,311.4 3060.5,291.8 3062.6,274.7 C3064.8,257.6 3066.3,242.4 3070.0,227.1 C3073.6,211.8 3078.5,198.4 3084.6,183.2 C3090.7,167.9 3098.7,152.0 3106.6,135.5 C3114.5,119.0 3123.7,100.7 3132.2,84.2 C3140.8,67.8 3149.9,49.1 3157.9,36.6 C3165.8,24.1 3174.1,11.6 3179.9,9.2 Z" fill="#3a762f"/><g clip-path="url(#lc4)"><path d="M3179.9,9.2 C3185.3,21.4 3176.8,93.1 3172.5,146.5 C3168.3,199.9 3161.5,252.7 3154.2,329.7 C3146.9,406.6 3143.2,589.7 3128.6,608.1 C3113.9,626.4 3078.5,489.0 3066.3,439.6 C3054.1,390.1 3052.3,354.1 3055.3,311.4 C3058.4,268.6 3070.6,222.8 3084.6,183.2 C3098.7,143.5 3123.7,102.3 3139.6,73.3 C3155.4,44.3 3174.4,-3.1 3179.9,9.2 Z" fill="#3b7631" opacity="0.9" filter="url(#lb2)"/><path d="M3157.9,329.7 C3173.7,310.1 3226.9,316.2 3242.1,322.3 C3257.4,328.4 3254.3,346.8 3249.5,366.3 C3244.6,385.8 3227.5,415.1 3212.8,439.6 C3198.2,464.0 3172.5,512.8 3161.5,512.8 C3150.5,512.8 3147.5,470.1 3146.9,439.6 C3146.3,409.0 3142.0,349.2 3157.9,329.7 Z" fill="#4a845a" opacity="0.6" filter="url(#lb3)"/><ellipse cx="3132.2" cy="199.6" rx="30.0" ry="48.0" fill="#8f9228" opacity="0.95" transform="rotate(0 3132.2 199.6)" filter="url(#lb2)"/><ellipse cx="3126.7" cy="190.5" rx="16.0" ry="26.0" fill="#a8a02e" opacity="0.8" transform="rotate(0 3126.7 190.5)" filter="url(#lb2)"/><ellipse cx="3148.7" cy="219.8" rx="9.0" ry="22.0" fill="#c5cfae" opacity="0.75" transform="rotate(20 3148.7 219.8)" filter="url(#lb)"/><path d="M3175.2,101.8 Q3226.8,70.1 3270.0,27.7 M3175.2,101.8 Q3127.8,64.1 3090.1,16.9 M3171.8,153.6 Q3224.6,124.0 3269.4,83.4 M3171.8,153.6 Q3126.0,114.2 3090.1,65.5 M3166.6,205.3 Q3219.4,175.7 3264.2,135.1 M3166.6,205.3 Q3120.8,165.9 3084.9,117.2 M3161.5,257.1 Q3214.2,227.5 3259.1,186.8 M3161.5,257.1 Q3115.6,217.6 3079.7,168.9 M3156.3,308.8 Q3209.1,279.2 3253.9,238.5 M3156.3,308.8 Q3110.4,269.3 3074.6,220.6 M3151.1,360.5 Q3203.9,330.9 3248.7,290.3 M3151.1,360.5 Q3105.3,321.0 3069.4,272.3 M3146.0,412.2 Q3198.7,382.6 3243.5,342.0 M3146.0,412.2 Q3100.1,372.7 3064.2,324.0 M3140.8,463.9 Q3193.6,434.3 3238.4,393.7 M3140.8,463.9 Q3094.9,424.5 3059.0,375.8 M3136.0,515.7 Q3188.5,485.6 3232.9,444.6 M3136.0,515.7 Q3089.8,476.6 3053.5,428.2" fill="none" stroke="#336c2c" stroke-width="3" opacity="0.45" stroke-linecap="round"/><path d="M3180.6,12.8 C3179.2,35.1 3176.9,93.7 3172.5,146.5 C3168.1,199.3 3159.7,274.7 3154.2,329.7 C3148.7,384.6 3144.0,430.4 3139.6,476.2 C3135.2,522.0 3129.8,583.0 3127.8,604.4" fill="none" stroke="#528d3a" stroke-width="3" opacity="0.9"/></g></g>
<clipPath id="lc5"><path d="M2299.9,763.7 C2306.4,763.7 2315.2,765.3 2325.2,771.5 C2335.3,777.7 2349.9,788.7 2360.3,800.7 C2370.7,812.7 2379.1,829.9 2387.5,843.6 C2396.0,857.2 2404.4,869.5 2410.9,882.5 C2417.4,895.5 2423.2,906.5 2426.5,921.4 C2429.7,936.4 2430.0,955.2 2430.4,972.1 C2430.7,988.9 2430.4,1006.5 2428.4,1022.7 C2426.5,1038.9 2422.9,1051.9 2418.7,1069.4 C2414.5,1086.9 2409.0,1108.3 2403.1,1127.8 C2397.3,1147.3 2390.8,1168.7 2383.6,1186.2 C2376.5,1203.8 2368.1,1218.0 2360.3,1233.0 C2352.5,1247.9 2342.4,1264.1 2336.9,1275.8 C2331.4,1287.5 2329.1,1294.6 2327.2,1303.1 C2325.2,1311.5 2326.9,1322.2 2325.2,1326.4 C2323.6,1330.6 2319.1,1332.3 2317.4,1328.4 C2315.8,1324.5 2317.4,1311.8 2315.5,1303.1 C2313.6,1294.3 2311.9,1288.8 2305.8,1275.8 C2299.6,1262.8 2286.9,1243.3 2278.5,1225.2 C2270.1,1207.0 2262.3,1186.2 2255.1,1166.8 C2248.0,1147.3 2240.2,1127.8 2235.7,1108.3 C2231.1,1088.9 2229.2,1066.2 2227.9,1049.9 C2226.6,1033.7 2231.1,1022.7 2227.9,1011.0 C2224.6,999.3 2211.7,992.8 2208.4,979.8 C2205.2,966.9 2206.8,949.3 2208.4,933.1 C2210.0,916.9 2213.0,898.7 2218.1,882.5 C2223.3,866.3 2231.5,850.0 2239.6,835.8 C2247.7,821.5 2259.0,807.5 2266.8,796.8 C2274.6,786.1 2280.8,777.0 2286.3,771.5 C2291.8,766.0 2293.4,763.7 2299.9,763.7 Z"/></clipPath><g filter="url(#lb)"><path d="M2299.9,763.7 C2306.4,763.7 2315.2,765.3 2325.2,771.5 C2335.3,777.7 2349.9,788.7 2360.3,800.7 C2370.7,812.7 2379.1,829.9 2387.5,843.6 C2396.0,857.2 2404.4,869.5 2410.9,882.5 C2417.4,895.5 2423.2,906.5 2426.5,921.4 C2429.7,936.4 2430.0,955.2 2430.4,972.1 C2430.7,988.9 2430.4,1006.5 2428.4,1022.7 C2426.5,1038.9 2422.9,1051.9 2418.7,1069.4 C2414.5,1086.9 2409.0,1108.3 2403.1,1127.8 C2397.3,1147.3 2390.8,1168.7 2383.6,1186.2 C2376.5,1203.8 2368.1,1218.0 2360.3,1233.0 C2352.5,1247.9 2342.4,1264.1 2336.9,1275.8 C2331.4,1287.5 2329.1,1294.6 2327.2,1303.1 C2325.2,1311.5 2326.9,1322.2 2325.2,1326.4 C2323.6,1330.6 2319.1,1332.3 2317.4,1328.4 C2315.8,1324.5 2317.4,1311.8 2315.5,1303.1 C2313.6,1294.3 2311.9,1288.8 2305.8,1275.8 C2299.6,1262.8 2286.9,1243.3 2278.5,1225.2 C2270.1,1207.0 2262.3,1186.2 2255.1,1166.8 C2248.0,1147.3 2240.2,1127.8 2235.7,1108.3 C2231.1,1088.9 2229.2,1066.2 2227.9,1049.9 C2226.6,1033.7 2231.1,1022.7 2227.9,1011.0 C2224.6,999.3 2211.7,992.8 2208.4,979.8 C2205.2,966.9 2206.8,949.3 2208.4,933.1 C2210.0,916.9 2213.0,898.7 2218.1,882.5 C2223.3,866.3 2231.5,850.0 2239.6,835.8 C2247.7,821.5 2259.0,807.5 2266.8,796.8 C2274.6,786.1 2280.8,777.0 2286.3,771.5 C2291.8,766.0 2293.4,763.7 2299.9,763.7 Z" fill="#4a7354"/><g clip-path="url(#lc5)"><path d="M2299.9,763.7 C2312.3,776.7 2310.3,862.7 2313.6,913.6 C2316.8,964.6 2318.1,1000.6 2319.4,1069.4 C2320.7,1138.2 2333.3,1313.4 2321.3,1326.4 C2309.3,1339.4 2266.2,1209.6 2247.4,1147.3 C2228.5,1085.0 2209.7,1004.5 2208.4,952.6 C2207.1,900.7 2224.3,867.2 2239.6,835.8 C2254.8,804.3 2287.6,750.7 2299.9,763.7 Z" fill="#517a5e" opacity="0.9" filter="url(#lb2)"/><path d="M2247.4,855.2 C2259.7,837.1 2298.0,814.3 2309.7,843.6 C2321.3,872.8 2318.1,979.8 2317.4,1030.5 C2316.8,1081.1 2315.5,1140.8 2305.8,1147.3 C2296.0,1153.8 2270.7,1101.9 2259.0,1069.4 C2247.4,1037.0 2237.6,988.3 2235.7,952.6 C2233.7,916.9 2235.0,873.4 2247.4,855.2 Z" fill="#5e8a6e" opacity="0.6" filter="url(#lb3)"/><path d="M2208.4,921.4 C2209.7,905.9 2222.7,886.4 2227.9,898.1 C2233.1,909.8 2240.9,976.0 2239.6,991.5 C2238.3,1007.1 2225.3,1003.2 2220.1,991.5 C2214.9,979.8 2207.1,937.0 2208.4,921.4 Z" fill="#3c6a32" opacity="0.8" filter="url(#lb2)"/><path d="M2305.8,823.0 Q2354.4,782.4 2392.1,726.3 M2305.8,823.0 Q2251.1,791.2 2204.4,742.3 M2309.8,869.1 Q2358.3,828.5 2396.0,772.5 M2309.8,869.1 Q2255.0,837.4 2208.3,788.5 M2313.6,915.2 Q2364.0,877.0 2404.4,822.8 M2313.6,915.2 Q2260.5,880.9 2216.1,829.9 M2315.3,961.5 Q2365.8,923.3 2406.1,869.1 M2315.3,961.5 Q2262.2,927.2 2217.9,876.1 M2317.1,1007.8 Q2367.5,969.6 2407.9,915.3 M2317.1,1007.8 Q2263.9,973.5 2219.6,922.4 M2318.8,1054.0 Q2369.2,1015.8 2409.6,961.6 M2318.8,1054.0 Q2265.7,1019.7 2221.3,968.7 M2319.8,1100.3 Q2371.1,1063.4 2412.9,1010.2 M2319.8,1100.3 Q2267.5,1064.7 2224.5,1012.5 M2320.4,1146.6 Q2371.7,1109.7 2413.4,1056.5 M2320.4,1146.6 Q2268.1,1111.0 2225.1,1058.8 M2320.9,1192.9 Q2372.3,1156.0 2414.0,1102.8 M2320.9,1192.9 Q2268.7,1157.3 2225.6,1105.1 M2321.3,1239.2 Q2373.2,1202.9 2415.5,1150.2 M2321.3,1239.2 Q2269.5,1202.9 2227.1,1150.2" fill="none" stroke="#3d6446" stroke-width="2.5" opacity="0.6" stroke-linecap="round"/><path d="M2301.1,767.6 C2303.2,792.0 2310.5,863.3 2313.6,913.6 C2316.6,963.9 2318.1,1017.5 2319.4,1069.4 C2320.7,1121.3 2321.0,1183.0 2321.3,1225.2 C2321.7,1267.4 2321.3,1306.3 2321.3,1322.5" fill="none" stroke="#6d9668" stroke-width="3" opacity="0.8"/></g></g>
<clipPath id="lc6"><path d="M2555.0,709.2 C2561.2,706.0 2566.7,706.9 2572.5,711.2 C2578.3,715.4 2582.6,724.8 2590.0,734.5 C2597.5,744.3 2608.2,757.2 2617.3,769.6 C2626.4,781.9 2636.1,794.2 2644.5,808.5 C2653.0,822.8 2661.7,839.7 2667.9,855.2 C2674.1,870.8 2677.6,885.7 2681.5,902.0 C2685.4,918.2 2689.3,934.4 2691.3,952.6 C2693.2,970.8 2693.5,991.5 2693.2,1011.0 C2692.9,1030.5 2691.6,1049.9 2689.3,1069.4 C2687.1,1088.9 2683.8,1108.3 2679.6,1127.8 C2675.4,1147.3 2669.5,1166.8 2664.0,1186.2 C2658.5,1205.7 2651.4,1229.1 2646.5,1244.6 C2641.6,1260.2 2637.1,1271.3 2634.8,1279.7 C2632.5,1288.1 2634.5,1292.7 2632.9,1295.3 C2631.2,1297.9 2627.7,1299.2 2625.1,1295.3 C2622.5,1291.4 2622.5,1283.6 2617.3,1271.9 C2612.1,1260.2 2603.0,1242.7 2593.9,1225.2 C2584.8,1207.6 2572.5,1186.2 2562.8,1166.8 C2553.0,1147.3 2543.3,1127.8 2535.5,1108.3 C2527.7,1088.9 2521.9,1069.4 2516.0,1049.9 C2510.2,1030.5 2505.0,1009.0 2500.5,991.5 C2495.9,974.0 2492.0,960.4 2488.8,944.8 C2485.5,929.2 2482.0,913.0 2481.0,898.1 C2480.0,883.1 2480.3,868.9 2482.9,855.2 C2485.5,841.6 2491.1,830.6 2496.6,816.3 C2502.1,802.0 2509.6,783.8 2516.0,769.6 C2522.5,755.3 2529.0,740.7 2535.5,730.6 C2542.0,720.6 2548.8,712.5 2555.0,709.2 Z"/></clipPath><g filter="url(#lb)"><path d="M2555.0,709.2 C2561.2,706.0 2566.7,706.9 2572.5,711.2 C2578.3,715.4 2582.6,724.8 2590.0,734.5 C2597.5,744.3 2608.2,757.2 2617.3,769.6 C2626.4,781.9 2636.1,794.2 2644.5,808.5 C2653.0,822.8 2661.7,839.7 2667.9,855.2 C2674.1,870.8 2677.6,885.7 2681.5,902.0 C2685.4,918.2 2689.3,934.4 2691.3,952.6 C2693.2,970.8 2693.5,991.5 2693.2,1011.0 C2692.9,1030.5 2691.6,1049.9 2689.3,1069.4 C2687.1,1088.9 2683.8,1108.3 2679.6,1127.8 C2675.4,1147.3 2669.5,1166.8 2664.0,1186.2 C2658.5,1205.7 2651.4,1229.1 2646.5,1244.6 C2641.6,1260.2 2637.1,1271.3 2634.8,1279.7 C2632.5,1288.1 2634.5,1292.7 2632.9,1295.3 C2631.2,1297.9 2627.7,1299.2 2625.1,1295.3 C2622.5,1291.4 2622.5,1283.6 2617.3,1271.9 C2612.1,1260.2 2603.0,1242.7 2593.9,1225.2 C2584.8,1207.6 2572.5,1186.2 2562.8,1166.8 C2553.0,1147.3 2543.3,1127.8 2535.5,1108.3 C2527.7,1088.9 2521.9,1069.4 2516.0,1049.9 C2510.2,1030.5 2505.0,1009.0 2500.5,991.5 C2495.9,974.0 2492.0,960.4 2488.8,944.8 C2485.5,929.2 2482.0,913.0 2481.0,898.1 C2480.0,883.1 2480.3,868.9 2482.9,855.2 C2485.5,841.6 2491.1,830.6 2496.6,816.3 C2502.1,802.0 2509.6,783.8 2516.0,769.6 C2522.5,755.3 2529.0,740.7 2535.5,730.6 C2542.0,720.6 2548.8,712.5 2555.0,709.2 Z" fill="#4c7657"/><g clip-path="url(#lc6)"><path d="M2555.0,709.2 C2568.0,713.7 2569.3,782.2 2578.3,835.8 C2587.4,889.3 2601.1,953.9 2609.5,1030.5 C2617.9,1107.1 2640.7,1282.3 2629.0,1295.3 C2617.3,1308.2 2563.4,1172.0 2539.4,1108.3 C2515.4,1044.7 2491.4,963.6 2484.9,913.6 C2478.4,863.7 2488.8,842.6 2500.5,808.5 C2512.1,774.4 2542.0,704.7 2555.0,709.2 Z" fill="#56806a" opacity="0.9" filter="url(#lb2)"/><path d="M2500.5,855.2 C2512.1,837.1 2555.0,820.8 2570.6,843.6 C2586.1,866.3 2589.4,950.6 2593.9,991.5 C2598.5,1032.4 2606.9,1079.1 2597.8,1088.9 C2588.7,1098.6 2555.6,1072.7 2539.4,1049.9 C2523.2,1027.2 2507.0,985.0 2500.5,952.6 C2494.0,920.1 2488.8,873.4 2500.5,855.2 Z" fill="#638e7a" opacity="0.6" filter="url(#lb3)"/><ellipse cx="2561.6" cy="763.7" rx="8.0" ry="10.0" fill="#7a6a35" opacity="0.95" transform="rotate(0 2561.6 763.7)" filter="url(#lb)"/><path d="M2567.7,799.1 Q2611.7,753.7 2643.4,694.0 M2567.7,799.1 Q2510.0,773.3 2458.4,729.6 M2576.5,844.8 Q2620.5,799.4 2652.2,739.6 M2576.5,844.8 Q2518.8,818.9 2467.2,775.2 M2585.0,890.5 Q2629.8,845.8 2662.5,786.6 M2585.0,890.5 Q2527.7,863.7 2476.9,819.1 M2593.0,936.3 Q2637.8,891.6 2670.5,832.4 M2593.0,936.3 Q2535.7,909.5 2484.9,864.9 M2601.0,982.1 Q2645.8,937.4 2678.5,878.2 M2601.0,982.1 Q2543.7,955.2 2492.9,910.7 M2609.0,1027.8 Q2653.8,983.2 2686.5,924.0 M2609.0,1027.8 Q2551.8,1001.0 2500.9,956.4 M2613.3,1074.1 Q2661.8,1033.5 2699.4,977.3 M2613.3,1074.1 Q2558.5,1042.5 2511.7,993.7 M2617.4,1120.4 Q2665.8,1079.8 2703.5,1023.6 M2617.4,1120.4 Q2562.6,1088.8 2515.8,1040.0 M2621.4,1166.7 Q2669.9,1126.1 2707.5,1069.9 M2621.4,1166.7 Q2566.6,1135.1 2519.8,1086.3 M2624.8,1213.1 Q2674.3,1173.6 2713.2,1118.4 M2624.8,1213.1 Q2570.8,1180.1 2525.2,1130.2" fill="none" stroke="#3d6446" stroke-width="2.5" opacity="0.6" stroke-linecap="round"/><path d="M2562.8,773.5 C2566.0,790.3 2574.5,831.9 2582.2,874.7 C2590.0,917.5 2602.7,978.5 2609.5,1030.5 C2616.3,1082.4 2619.8,1142.7 2623.1,1186.2 C2626.5,1229.7 2628.6,1273.8 2629.8,1291.4" fill="none" stroke="#6d9668" stroke-width="3" opacity="0.8"/></g></g>
<clipPath id="lc7"><path d="M2891.3,720.9 C2895.2,720.2 2900.4,720.6 2905.0,726.7 C2909.5,732.9 2913.1,744.3 2918.6,757.9 C2924.1,771.5 2931.6,791.6 2938.1,808.5 C2944.6,825.4 2951.7,841.6 2957.5,859.1 C2963.4,876.7 2967.9,894.8 2973.1,913.6 C2978.3,932.5 2985.1,952.6 2988.7,972.1 C2992.3,991.5 2994.5,1011.0 2994.5,1030.5 C2994.5,1049.9 2991.6,1069.4 2988.7,1088.9 C2985.8,1108.3 2981.6,1127.8 2977.0,1147.3 C2972.5,1166.8 2966.6,1187.5 2961.4,1205.7 C2956.2,1223.9 2950.4,1241.4 2945.9,1256.3 C2941.3,1271.3 2934.5,1283.6 2934.2,1295.3 C2933.8,1306.9 2943.6,1320.9 2943.9,1326.4 C2944.2,1331.9 2939.7,1332.9 2936.1,1328.4 C2932.6,1323.8 2929.3,1311.2 2922.5,1299.2 C2915.7,1287.2 2905.0,1271.9 2895.2,1256.3 C2885.5,1240.7 2874.5,1222.6 2864.1,1205.7 C2853.7,1188.8 2842.7,1171.3 2832.9,1155.1 C2823.2,1138.9 2813.1,1125.9 2805.7,1108.3 C2798.2,1090.8 2792.4,1069.4 2788.1,1049.9 C2783.9,1030.5 2780.4,1009.0 2780.4,991.5 C2780.4,974.0 2783.9,959.7 2788.1,944.8 C2792.4,929.9 2798.9,917.5 2805.7,902.0 C2812.5,886.4 2821.2,868.2 2829.0,851.3 C2836.8,834.5 2845.3,816.3 2852.4,800.7 C2859.5,785.1 2867.0,769.6 2871.9,757.9 C2876.7,746.2 2878.4,736.8 2881.6,730.6 C2884.8,724.5 2887.4,721.5 2891.3,720.9 Z"/></clipPath><g filter="url(#lb)"><path d="M2891.3,720.9 C2895.2,720.2 2900.4,720.6 2905.0,726.7 C2909.5,732.9 2913.1,744.3 2918.6,757.9 C2924.1,771.5 2931.6,791.6 2938.1,808.5 C2944.6,825.4 2951.7,841.6 2957.5,859.1 C2963.4,876.7 2967.9,894.8 2973.1,913.6 C2978.3,932.5 2985.1,952.6 2988.7,972.1 C2992.3,991.5 2994.5,1011.0 2994.5,1030.5 C2994.5,1049.9 2991.6,1069.4 2988.7,1088.9 C2985.8,1108.3 2981.6,1127.8 2977.0,1147.3 C2972.5,1166.8 2966.6,1187.5 2961.4,1205.7 C2956.2,1223.9 2950.4,1241.4 2945.9,1256.3 C2941.3,1271.3 2934.5,1283.6 2934.2,1295.3 C2933.8,1306.9 2943.6,1320.9 2943.9,1326.4 C2944.2,1331.9 2939.7,1332.9 2936.1,1328.4 C2932.6,1323.8 2929.3,1311.2 2922.5,1299.2 C2915.7,1287.2 2905.0,1271.9 2895.2,1256.3 C2885.5,1240.7 2874.5,1222.6 2864.1,1205.7 C2853.7,1188.8 2842.7,1171.3 2832.9,1155.1 C2823.2,1138.9 2813.1,1125.9 2805.7,1108.3 C2798.2,1090.8 2792.4,1069.4 2788.1,1049.9 C2783.9,1030.5 2780.4,1009.0 2780.4,991.5 C2780.4,974.0 2783.9,959.7 2788.1,944.8 C2792.4,929.9 2798.9,917.5 2805.7,902.0 C2812.5,886.4 2821.2,868.2 2829.0,851.3 C2836.8,834.5 2845.3,816.3 2852.4,800.7 C2859.5,785.1 2867.0,769.6 2871.9,757.9 C2876.7,746.2 2878.4,736.8 2881.6,730.6 C2884.8,724.5 2887.4,721.5 2891.3,720.9 Z" fill="#4a7d48"/><g clip-path="url(#lc7)"><path d="M2891.3,720.9 C2903.7,724.8 2899.1,816.6 2903.0,874.7 C2906.9,932.8 2908.9,994.1 2914.7,1069.4 C2920.5,1144.7 2951.0,1313.4 2938.1,1326.4 C2925.1,1339.4 2863.4,1203.1 2836.8,1147.3 C2810.2,1091.5 2779.7,1040.9 2778.4,991.5 C2777.1,942.2 2810.2,896.4 2829.0,851.3 C2847.9,806.2 2879.0,717.0 2891.3,720.9 Z" fill="#4e7f52" opacity="0.9" filter="url(#lb2)"/><path d="M2809.6,913.6 C2826.4,898.1 2882.3,878.6 2899.1,898.1 C2916.0,917.5 2909.5,995.4 2910.8,1030.5 C2912.1,1065.5 2919.2,1101.9 2906.9,1108.3 C2894.6,1114.8 2855.0,1088.9 2836.8,1069.4 C2818.7,1049.9 2802.4,1017.5 2797.9,991.5 C2793.3,965.6 2792.7,929.2 2809.6,913.6 Z" fill="#5a8b64" opacity="0.6" filter="url(#lb3)"/><path d="M2897.2,786.6 Q2948.7,745.2 2989.2,687.5 M2897.2,786.6 Q2840.8,752.3 2793.0,700.4 M2900.6,838.4 Q2952.1,797.1 2992.6,739.3 M2900.6,838.4 Q2844.2,804.2 2796.5,752.2 M2904.0,890.3 Q2955.7,849.3 2996.5,791.7 M2904.0,890.3 Q2847.7,855.7 2800.3,803.5 M2907.1,942.2 Q2958.8,901.1 2999.6,843.6 M2907.1,942.2 Q2850.8,907.6 2803.4,855.4 M2910.2,994.0 Q2961.9,953.0 3002.7,895.5 M2910.2,994.0 Q2853.9,959.5 2806.5,907.3 M2913.3,1045.9 Q2965.0,1004.9 3005.9,947.4 M2913.3,1045.9 Q2857.1,1011.4 2809.6,959.1 M2916.8,1097.7 Q2967.9,1056.0 3007.9,997.8 M2916.8,1097.7 Q2860.1,1064.0 2811.9,1012.5 M2920.7,1149.6 Q2971.8,1107.8 3011.8,1049.6 M2920.7,1149.6 Q2864.0,1115.9 2815.8,1064.4 M2924.6,1201.4 Q2975.7,1159.6 3015.7,1101.5 M2924.6,1201.4 Q2867.9,1167.7 2819.6,1116.2 M2929.9,1253.1 Q2978.8,1208.8 3015.9,1148.7 M2929.9,1253.1 Q2871.5,1222.2 2820.8,1173.2" fill="none" stroke="#3a6a3c" stroke-width="2.5" opacity="0.55" stroke-linecap="round"/><path d="M2893.3,726.7 C2894.9,751.4 2899.5,817.6 2903.0,874.7 C2906.6,931.8 2910.8,1011.0 2914.7,1069.4 C2918.6,1127.8 2922.4,1182.7 2926.4,1225.2 C2930.4,1267.7 2936.8,1307.9 2938.8,1324.5" fill="none" stroke="#74a064" stroke-width="3" opacity="0.8"/><ellipse cx="2935.3" cy="919.5" rx="27.0" ry="46.0" fill="#dde2df" opacity="1" transform="rotate(-10 2935.3 919.5)" filter="url(#lb)"/></g></g>
<clipPath id="lc8"><path d="M3195.1,736.5 C3200.3,735.8 3201.2,735.5 3202.9,742.3 C3204.5,749.1 3201.9,766.3 3204.8,777.4 C3207.7,788.4 3214.9,794.2 3220.4,808.5 C3225.9,822.8 3233.7,845.5 3237.9,863.0 C3242.1,880.5 3243.8,895.5 3245.7,913.6 C3247.6,931.8 3249.3,952.6 3249.6,972.1 C3249.9,991.5 3248.6,1011.0 3247.6,1030.5 C3246.7,1049.9 3246.0,1069.4 3243.8,1088.9 C3241.5,1108.3 3237.6,1129.1 3234.0,1147.3 C3230.4,1165.5 3226.9,1179.7 3222.3,1197.9 C3217.8,1216.1 3211.0,1238.8 3206.8,1256.3 C3202.5,1273.8 3199.0,1291.7 3197.0,1303.1 C3195.1,1314.4 3196.7,1321.2 3195.1,1324.5 C3193.5,1327.7 3190.5,1328.0 3187.3,1322.5 C3184.0,1317.0 3182.7,1304.4 3175.6,1291.4 C3168.5,1278.4 3154.8,1262.2 3144.5,1244.6 C3134.1,1227.1 3123.0,1205.7 3113.3,1186.2 C3103.6,1166.8 3093.5,1147.3 3086.0,1127.8 C3078.6,1108.3 3072.7,1088.9 3068.5,1069.4 C3064.3,1049.9 3061.7,1029.2 3060.7,1011.0 C3059.8,992.8 3060.7,976.6 3062.7,960.4 C3064.6,944.1 3067.9,929.9 3072.4,913.6 C3077.0,897.4 3083.1,879.2 3089.9,863.0 C3096.8,846.8 3104.2,831.2 3113.3,816.3 C3122.4,801.4 3134.7,785.1 3144.5,773.5 C3154.2,761.8 3163.3,752.4 3171.7,746.2 C3180.2,740.0 3189.9,737.1 3195.1,736.5 Z"/></clipPath><g filter="url(#lb)"><path d="M3195.1,736.5 C3200.3,735.8 3201.2,735.5 3202.9,742.3 C3204.5,749.1 3201.9,766.3 3204.8,777.4 C3207.7,788.4 3214.9,794.2 3220.4,808.5 C3225.9,822.8 3233.7,845.5 3237.9,863.0 C3242.1,880.5 3243.8,895.5 3245.7,913.6 C3247.6,931.8 3249.3,952.6 3249.6,972.1 C3249.9,991.5 3248.6,1011.0 3247.6,1030.5 C3246.7,1049.9 3246.0,1069.4 3243.8,1088.9 C3241.5,1108.3 3237.6,1129.1 3234.0,1147.3 C3230.4,1165.5 3226.9,1179.7 3222.3,1197.9 C3217.8,1216.1 3211.0,1238.8 3206.8,1256.3 C3202.5,1273.8 3199.0,1291.7 3197.0,1303.1 C3195.1,1314.4 3196.7,1321.2 3195.1,1324.5 C3193.5,1327.7 3190.5,1328.0 3187.3,1322.5 C3184.0,1317.0 3182.7,1304.4 3175.6,1291.4 C3168.5,1278.4 3154.8,1262.2 3144.5,1244.6 C3134.1,1227.1 3123.0,1205.7 3113.3,1186.2 C3103.6,1166.8 3093.5,1147.3 3086.0,1127.8 C3078.6,1108.3 3072.7,1088.9 3068.5,1069.4 C3064.3,1049.9 3061.7,1029.2 3060.7,1011.0 C3059.8,992.8 3060.7,976.6 3062.7,960.4 C3064.6,944.1 3067.9,929.9 3072.4,913.6 C3077.0,897.4 3083.1,879.2 3089.9,863.0 C3096.8,846.8 3104.2,831.2 3113.3,816.3 C3122.4,801.4 3134.7,785.1 3144.5,773.5 C3154.2,761.8 3163.3,752.4 3171.7,746.2 C3180.2,740.0 3189.9,737.1 3195.1,736.5 Z" fill="#487d44"/><g clip-path="url(#lc8)"><path d="M3195.1,736.5 C3201.6,754.0 3189.2,819.2 3187.3,874.7 C3185.3,930.2 3182.7,994.8 3183.4,1069.4 C3184.0,1144.0 3203.5,1303.1 3191.2,1322.5 C3178.9,1342.0 3131.5,1238.2 3109.4,1186.2 C3087.3,1134.3 3062.0,1064.9 3058.8,1011.0 C3055.5,957.1 3075.0,903.3 3089.9,863.0 C3104.9,822.8 3130.8,790.7 3148.3,769.6 C3165.9,748.5 3188.6,718.9 3195.1,736.5 Z" fill="#4b7f4c" opacity="0.9" filter="url(#lb2)"/><path d="M3070.5,991.5 C3082.1,966.2 3160.7,956.5 3179.5,976.0 C3198.3,995.4 3195.1,1083.0 3183.4,1108.3 C3171.7,1133.7 3128.2,1147.3 3109.4,1127.8 C3090.6,1108.3 3058.8,1016.8 3070.5,991.5 Z" fill="#588a5c" opacity="0.5" filter="url(#lb3)"/><path d="M3192.8,800.0 Q3249.5,766.2 3297.6,714.7 M3192.8,800.0 Q3141.6,758.3 3101.6,700.2 M3189.1,850.1 Q3245.8,816.3 3293.9,764.7 M3189.1,850.1 Q3138.0,808.3 3097.9,750.3 M3186.8,900.2 Q3241.6,863.4 3286.9,809.3 M3186.8,900.2 Q3133.5,861.2 3090.4,805.4 M3185.8,950.3 Q3240.6,913.5 3285.9,859.5 M3185.8,950.3 Q3132.5,911.4 3089.4,855.5 M3184.8,1000.5 Q3239.6,963.7 3284.9,909.6 M3184.8,1000.5 Q3131.5,961.5 3088.4,905.7 M3183.8,1050.6 Q3238.6,1013.9 3283.9,959.8 M3183.8,1050.6 Q3130.5,1011.7 3087.3,955.8 M3184.2,1100.8 Q3237.3,1061.6 3280.1,1005.5 M3184.2,1100.8 Q3129.2,1064.3 3083.6,1010.4 M3185.4,1150.9 Q3238.5,1111.7 3281.4,1055.7 M3185.4,1150.9 Q3130.4,1114.4 3084.8,1060.6 M3186.7,1201.1 Q3239.8,1161.9 3282.6,1105.8 M3186.7,1201.1 Q3131.7,1164.6 3086.1,1110.7 M3188.6,1251.2 Q3240.7,1210.7 3282.2,1153.7 M3188.6,1251.2 Q3132.7,1216.0 3085.8,1163.3" fill="none" stroke="#3a6a3c" stroke-width="2.5" opacity="0.55" stroke-linecap="round"/><path d="M3197.0,742.3 C3195.4,764.4 3189.6,820.2 3187.3,874.7 C3185.0,929.2 3183.4,1011.0 3183.4,1069.4 C3183.4,1127.8 3185.9,1183.3 3187.3,1225.2 C3188.7,1267.0 3191.2,1304.7 3192.0,1320.6" fill="none" stroke="#74a064" stroke-width="3" opacity="0.8"/><ellipse cx="3185.3" cy="935.1" rx="31.0" ry="41.0" fill="#3c3f3c" opacity="1" transform="rotate(0 3185.3 935.1)" filter="url(#lb)"/><ellipse cx="3185.3" cy="933.1" rx="27.0" ry="36.0" fill="#9a9c9c" opacity="1" transform="rotate(0 3185.3 933.1)" filter="url(#lb)"/><ellipse cx="3183.3" cy="935.1" rx="5.0" ry="30.0" fill="#25282a" opacity="0.95" transform="rotate(5 3183.3 935.1)" filter="url(#lb)"/><ellipse cx="3197.3" cy="943.1" rx="4.0" ry="18.0" fill="#4a4d4f" opacity="0.8" transform="rotate(5 3197.3 943.1)" filter="url(#lb)"/><ellipse cx="3169.3" cy="940.1" rx="4.0" ry="14.0" fill="#5a5d5f" opacity="0.7" transform="rotate(0 3169.3 940.1)" filter="url(#lb)"/></g></g>
<text transform="translate(37.70,117.00) scale(1.0040,1)" font-size="85">a</text>
<text transform="translate(39.10,1607.00) scale(0.9224,1)" font-size="85">b</text>
<text transform="translate(339.10,117.00) scale(0.9579,1)" font-size="69">(i)</text>
<text transform="translate(1918.40,117.00) scale(0.9638,1)" font-size="69">(ii)</text>
<text transform="translate(84.40,1682.00) scale(0.9533,1)" font-size="69">(i)</text>
<text transform="translate(1902.10,1682.00) scale(0.9614,1)" font-size="69">(ii)</text>
<text transform="translate(2085.50,582.60) rotate(-90) scale(1.0033,1)" font-size="66">Adaxial surfaces</text>
<text transform="translate(2087.00,1277.60) rotate(-90) scale(1.0033,1)" font-size="66">Abaxial surfaces</text>
<text transform="translate(2297.40,1421.00) scale(1.0157,1)" font-size="66">H</text>
<text transform="translate(2569.80,1421.00) scale(0.9204,1)" font-size="66">S1</text>
<text transform="translate(2849.40,1421.00) scale(0.9878,1)" font-size="66">S2</text>
<text transform="translate(3117.90,1421.00) scale(0.9333,1)" font-size="66">S3</text>
<g fill="#d2341c">
<rect x="16" y="1500.7" width="25" height="8.3"/>
<rect x="85.0" y="1500.7" width="46" height="8.3"/>
<rect x="176.0" y="1500.7" width="46" height="8.3"/>
<rect x="267.0" y="1500.7" width="46" height="8.3"/>
<rect x="358.0" y="1500.7" width="46" height="8.3"/>
<rect x="449.0" y="1500.7" width="46" height="8.3"/>
<rect x="540.0" y="1500.7" width="46" height="8.3"/>
<rect x="631.0" y="1500.7" width="46" height="8.3"/>
<rect x="722.0" y="1500.7" width="46" height="8.3"/>
<rect x="813.0" y="1500.7" width="46" height="8.3"/>
<rect x="904.0" y="1500.7" width="46" height="8.3"/>
<rect x="995.0" y="1500.7" width="46" height="8.3"/>
<rect x="1086.0" y="1500.7" width="46" height="8.3"/>
<rect x="1177.0" y="1500.7" width="46" height="8.3"/>
<rect x="1268.0" y="1500.7" width="46" height="8.3"/>
<rect x="1359.0" y="1500.7" width="46" height="8.3"/>
<rect x="1450.0" y="1500.7" width="46" height="8.3"/>
<rect x="1541.0" y="1500.7" width="46" height="8.3"/>
<rect x="1632.0" y="1500.7" width="46" height="8.3"/>
<rect x="1723.0" y="1500.7" width="46" height="8.3"/>
<rect x="1814.0" y="1500.7" width="46" height="8.3"/>
<rect x="1905.0" y="1500.7" width="46" height="8.3"/>
<rect x="1996.0" y="1500.7" width="46" height="8.3"/>
<rect x="2087.0" y="1500.7" width="46" height="8.3"/>
<rect x="2178.0" y="1500.7" width="46" height="8.3"/>
<rect x="2269.0" y="1500.7" width="46" height="8.3"/>
<rect x="2360.0" y="1500.7" width="46" height="8.3"/>
<rect x="2451.0" y="1500.7" width="46" height="8.3"/>
<rect x="2542.0" y="1500.7" width="46" height="8.3"/>
<rect x="2633.0" y="1500.7" width="46" height="8.3"/>
<rect x="2724.0" y="1500.7" width="46" height="8.3"/>
<rect x="2815.0" y="1500.7" width="46" height="8.3"/>
<rect x="2906.0" y="1500.7" width="46" height="8.3"/>
<rect x="2997.0" y="1500.7" width="46" height="8.3"/>
<rect x="3088.0" y="1500.7" width="46" height="8.3"/>
<rect x="3179.0" y="1500.7" width="46" height="8.3"/>
<rect x="3270.0" y="1500.7" width="46" height="8.3"/>
<rect x="3361.0" y="1500.7" width="46" height="8.3"/>
<rect x="3452.0" y="1500.7" width="46" height="8.3"/>
<rect x="3543.0" y="1500.7" width="46" height="8.3"/>
<rect x="3634.0" y="1500.7" width="46" height="8.3"/>
<rect x="3725.0" y="1500.7" width="46" height="8.3"/>
</g>
<rect x="858" y="1690" width="2.6" height="1263.1999999999998" fill="#999"/>
<rect x="339.3" y="2317.6" width="1297.7" height="2.8" fill="#999"/>
<rect x="336" y="1686.9" width="3.2" height="1269.0" fill="#8a8a8a"/>
<rect x="338.9" y="1689.7" width="3.3" height="1266.2" fill="#000"/>
<rect x="336" y="1686.9" width="1302.2" height="3.1" fill="#8a8a8a"/>
<rect x="338.9" y="1689.7" width="1299.3000000000002" height="2.9" fill="#000"/>
<rect x="336" y="2949.9" width="1302.2" height="3.3" fill="#484848"/>
<rect x="336" y="2953" width="1302.2" height="2.9" fill="#000"/>
<rect x="1635.8" y="1688" width="2.4" height="1268" fill="#111"/>
<rect x="327.5" y="1999.5" width="10" height="4.4" fill="#000"/>
<rect x="327.5" y="2316.8" width="10" height="4.4" fill="#000"/>
<rect x="327.5" y="2630.8" width="10" height="4.4" fill="#000"/>
<rect x="596.5" y="2955" width="3" height="6.9" fill="#000"/>
<rect x="857.9" y="2955" width="3" height="6.9" fill="#000"/>
<rect x="1118.9" y="2955" width="3" height="6.9" fill="#000"/>
<rect x="1380.4" y="2955" width="5" height="6.9" fill="#000"/>
<text transform="translate(192.40,1715.70) scale(0.9717,1)" font-size="68.6">0.20</text>
<text transform="translate(191.40,2030.40) scale(0.9767,1)" font-size="68.6">0.10</text>
<text transform="translate(191.40,2343.80) scale(0.9767,1)" font-size="68.6">0.00</text>
<text transform="translate(154.00,2657.00) scale(0.9792,1)" font-size="68.6">−0.10</text>
<text transform="translate(258.20,3039.00) scale(0.9817,1)" font-size="68.6">−0.20</text>
<text transform="translate(519.50,3039.00) scale(0.9817,1)" font-size="68.6">−0.10</text>
<text transform="translate(802.20,3039.00) scale(0.9633,1)" font-size="68.6">0.00</text>
<text transform="translate(1063.20,3039.00) scale(0.9625,1)" font-size="68.6">0.10</text>
<text transform="translate(1325.30,3039.00) scale(0.9625,1)" font-size="68.6">0.20</text>
<text transform="translate(1587.00,3039.00) scale(0.9633,1)" font-size="68.6">0.30</text>
<text transform="translate(796.40,3125.00) scale(1.0177,1)" font-size="65.5">PCo1 (34.21%)</text>
<text transform="translate(117.60,2530.80) rotate(-90) scale(1.0115,1)" font-size="65.5">PCo2 (22.94%)</text>
<circle cx="756" cy="1999" r="9.7" fill="#e23d48"/><circle cx="721.7" cy="2149.9" r="9.7" fill="#e23d48"/><circle cx="767.8" cy="2292.4" r="9.7" fill="#e23d48"/>
<circle cx="602.9" cy="2381.9" r="9.7" fill="#2db277"/><circle cx="554.1" cy="2399" r="9.7" fill="#2db277"/><circle cx="575" cy="2480.2" r="9.7" fill="#2db277"/>
<circle cx="872.6" cy="2399.8" r="9.7" fill="#5fc4e6"/><circle cx="891.6" cy="2402.9" r="9.7" fill="#5fc4e6"/><circle cx="869.5" cy="2442.9" r="9.7" fill="#5fc4e6"/>
<circle cx="1410.1" cy="2305" r="9.7" fill="#e5a83c"/><circle cx="1407.8" cy="2360.2" r="9.7" fill="#e5a83c"/><circle cx="1476.4" cy="2420.4" r="9.7" fill="#e5a83c"/>
<circle cx="1667.4" cy="1902.9" r="13.4" fill="#e5a83c"/>
<circle cx="1667.4" cy="1986.2" r="13.4" fill="#5fc4e6"/>
<circle cx="1667.4" cy="2060.5" r="13.4" fill="#e23d48"/>
<circle cx="1667.4" cy="2152.2" r="13.4" fill="#2db277"/>
<text transform="translate(1690.80,1923.80) scale(1.0220,1)" font-size="66">H</text>
<text transform="translate(1692.70,2008.50) scale(0.8918,1)" font-size="66">S1</text>
<text transform="translate(1692.70,2090.00) scale(0.9663,1)" font-size="66">S2</text>
<text transform="translate(1692.70,2172.80) scale(0.9305,1)" font-size="66">S3</text>
<rect x="2730.1" y="1672.4" width="2.6" height="1284.6" fill="#999"/>
<rect x="2165.3" y="2304.7" width="1407.1999999999998" height="2.6" fill="#999"/>
<rect x="2162.3" y="1671.2" width="5.3" height="1287.8" fill="#0a0000"/>
<rect x="2162.3" y="1671.2" width="1413.6" height="2.6" fill="#000"/>
<rect x="2162.3" y="2955.8" width="1413.6" height="3.3" fill="#000"/>
<rect x="2162.3" y="2959" width="1413.6" height="2.9" fill="#c6c6c6"/>
<rect x="3570.1" y="1671.2" width="3.2" height="1287.8" fill="#484848"/>
<rect x="3573.1" y="1671.2" width="2.8" height="1287.8" fill="#000"/>
<rect x="2153" y="1984.5" width="10" height="4.4" fill="#000"/>
<rect x="2153" y="2303.8" width="10" height="4.4" fill="#000"/>
<rect x="2153" y="2623.8" width="10" height="4.4" fill="#000"/>
<rect x="2452.0" y="2958" width="3" height="12.5" fill="#000"/>
<rect x="2729.65" y="2958" width="3.5" height="12.5" fill="#000"/>
<rect x="3007.3" y="2958" width="3" height="12.5" fill="#000"/>
<rect x="3285.0" y="2958" width="3" height="12.5" fill="#000"/>
<text transform="translate(2020.10,1698.80) scale(0.9625,1)" font-size="68.6">0.20</text>
<text transform="translate(2020.10,2016.90) scale(0.9625,1)" font-size="68.6">0.10</text>
<text transform="translate(2020.10,2333.50) scale(0.9625,1)" font-size="68.6">0.00</text>
<text transform="translate(1980.40,2653.50) scale(0.9792,1)" font-size="68.6">−0.10</text>
<text transform="translate(2085.30,3039.00) scale(0.9811,1)" font-size="68.6">−0.20</text>
<text transform="translate(2368.70,3039.00) scale(0.9767,1)" font-size="68.6">−0.10</text>
<text transform="translate(2670.50,3039.00) scale(0.9692,1)" font-size="68.6">0.00</text>
<text transform="translate(2952.70,3039.00) scale(0.9725,1)" font-size="68.6">0.10</text>
<text transform="translate(3235.40,3039.00) scale(0.9658,1)" font-size="68.6">0.20</text>
<text transform="translate(3518.70,3039.00) scale(0.9692,1)" font-size="68.6">0.30</text>
<text transform="translate(2672.20,3125.00) scale(1.0164,1)" font-size="65.5">PCo1 (16.36%)</text>
<text transform="translate(1946.70,2529.00) rotate(-90) scale(1.0137,1)" font-size="65.5">PCo2 (12.25%)</text>
<circle cx="2382.1" cy="1902.9" r="11.3" fill="#e5a83c"/><circle cx="2503.6" cy="1936.4" r="11.3" fill="#e5a83c"/><circle cx="2540.2" cy="2122.7" r="11.3" fill="#e5a83c"/>
<circle cx="2337.1" cy="2484.2" r="11.3" fill="#5fc4e6"/><circle cx="2363.8" cy="2484.2" r="11.3" fill="#5fc4e6"/><circle cx="2439.2" cy="2411.5" r="11.3" fill="#5fc4e6"/>
<circle cx="3109.5" cy="1900.2" r="11.3" fill="#e23d48"/><circle cx="3042.5" cy="2077" r="11.3" fill="#e23d48"/><circle cx="2991.4" cy="2093.7" r="11.3" fill="#e23d48"/>
<circle cx="3138.1" cy="2481.6" r="11.3" fill="#2db277"/><circle cx="3265.7" cy="2554.3" r="11.3" fill="#2db277"/><circle cx="3352.2" cy="2746.7" r="11.3" fill="#2db277"/>
<circle cx="3649.3" cy="1875" r="15.6" fill="#e5a83c"/>
<circle cx="3651.2" cy="1966.5" r="15.6" fill="#5fc4e6"/>
<circle cx="3649.3" cy="2052.6" r="15.6" fill="#e23d48"/>
<circle cx="3654.3" cy="2124.2" r="15.6" fill="#2db277"/>
<text transform="translate(3683.20,1899.00) scale(1.0387,1)" font-size="66">H</text>
<text transform="translate(3685.10,1982.90) scale(0.8918,1)" font-size="66">S1</text>
<text transform="translate(3685.10,2066.70) scale(0.9677,1)" font-size="66">S2</text>
<text transform="translate(3685.10,2149.30) scale(0.9319,1)" font-size="66">S3</text>
</svg>
</body></html>
